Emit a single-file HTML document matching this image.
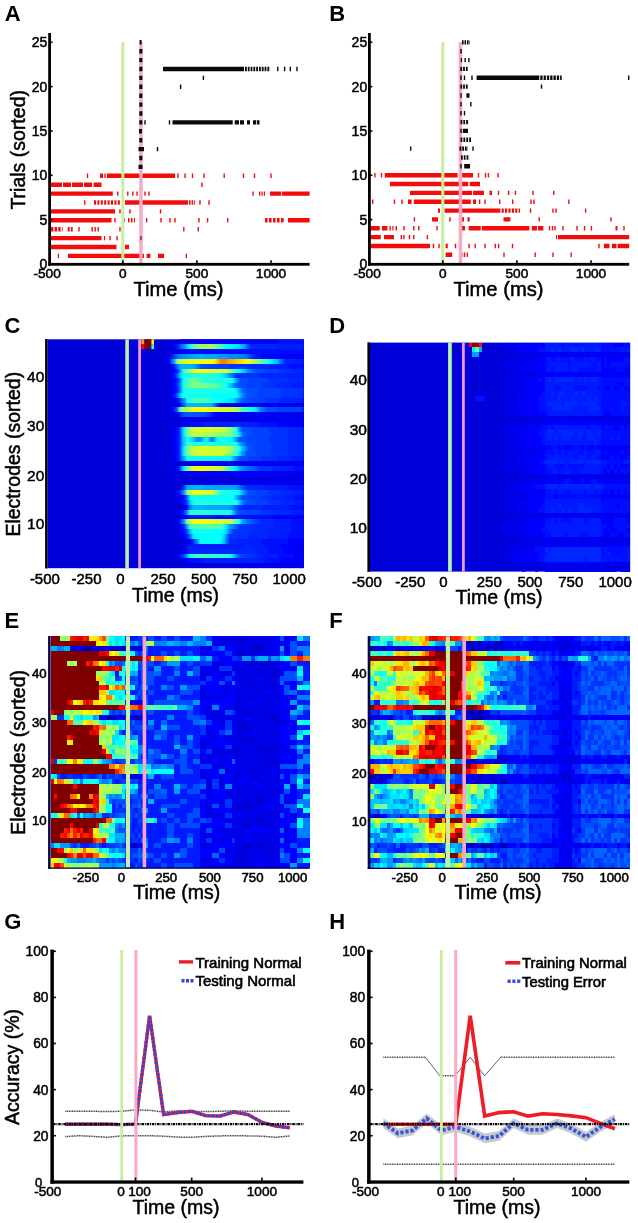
<!DOCTYPE html>
<html><head><meta charset="utf-8"><title>Figure</title>
<style>
html,body{margin:0;padding:0;background:#fff;}
svg{display:block;}
svg text{font-family:"Liberation Sans", sans-serif;fill:#000;stroke:#000;stroke-width:.5px;}
</style></head><body>
<svg width="638" height="1223" viewBox="0 0 638 1223">
<rect width="638" height="1223" fill="#fff"/>
<path fill="#f20d0d" d="M86.8 173.6h1.4v4.4h-1.4zM100 173.6h3v4.4h-3zM104.3 173.6h1.4v4.4h-1.4zM107 173.6h68v4.4h-68zM177.3 173.6h1.4v4.4h-1.4zM184.3 173.6h1.4v4.4h-1.4zM191.8 173.6h1.4v4.4h-1.4zM203.3 173.6h1.4v4.4h-1.4zM223.5 173.6h1.4v4.4h-1.4zM242.8 173.6h1.4v4.4h-1.4zM253.8 173.6h1.4v4.4h-1.4zM270.3 173.6h1.4v4.4h-1.4zM50 182.5h12v4.4h-12zM63 182.5h8v4.4h-8zM72 182.5h11v4.4h-11zM84 182.5h8v4.4h-8zM93.5 182.5h8v4.4h-8zM201.3 182.5h1.4v4.4h-1.4zM50 191.4h62.8v4.4h-62.8zM117.1 191.4h1.4v4.4h-1.4zM127.1 191.4h1.4v4.4h-1.4zM132.1 191.4h1.4v4.4h-1.4zM136.3 191.4h1.4v4.4h-1.4zM144.3 191.4h1.4v4.4h-1.4zM148.3 191.4h1.4v4.4h-1.4zM252.3 191.4h1.4v4.4h-1.4zM259 191.4h1.3v4.4h-1.3zM261.4 191.4h1.3v4.4h-1.3zM263.8 191.4h1.2v4.4h-1.2zM270 191.4h11v4.4h-11zM281.8 191.4h27.8v4.4h-27.8zM84 200.3h1.4v4.4h-1.4zM94 200.3h2v4.4h-2zM97.4 200.3h2v4.4h-2zM100.8 200.3h2v4.4h-2zM104.2 200.3h2v4.4h-2zM107.6 200.3h2v4.4h-2zM111 200.3h2v4.4h-2zM114.4 200.3h2v4.4h-2zM117.8 200.3h2v4.4h-2zM122 200.3h1.5v4.4h-1.5zM125 200.3h63v4.4h-63zM189 200.3h1.6v4.4h-1.6zM191.6 200.3h1.6v4.4h-1.6zM194.2 200.3h0.8v4.4h-0.8zM199.3 200.3h1.4v4.4h-1.4zM208.3 200.3h1.4v4.4h-1.4zM50 209.2h65v4.4h-65zM119.3 209.2h1.4v4.4h-1.4zM129.3 209.2h1.4v4.4h-1.4zM159.8 209.2h1.4v4.4h-1.4zM50 218.1h61.5v4.4h-61.5zM114.3 218.1h1.4v4.4h-1.4zM123.3 218.1h1.4v4.4h-1.4zM128 218.1h1.5v4.4h-1.5zM131 218.1h1.5v4.4h-1.5zM134 218.1h1v4.4h-1zM145.9 218.1h1.4v4.4h-1.4zM160.3 218.1h1.4v4.4h-1.4zM169.3 218.1h1.4v4.4h-1.4zM174.3 218.1h1.4v4.4h-1.4zM198.3 218.1h1.4v4.4h-1.4zM206.9 218.1h1.4v4.4h-1.4zM227 218.1h1.4v4.4h-1.4zM265 218.1h2.6v4.4h-2.6zM269 218.1h2.6v4.4h-2.6zM273 218.1h2.6v4.4h-2.6zM277 218.1h2.6v4.4h-2.6zM281 218.1h2.6v4.4h-2.6zM288 218.1h21.6v4.4h-21.6zM51 227h2.4v4.4h-2.4zM54.6 227h2.4v4.4h-2.4zM58.2 227h2.4v4.4h-2.4zM61.8 227h0.8v4.4h-0.8zM67.7 227h2v4.4h-2zM70.9 227h1.8v4.4h-1.8zM78.3 227h1.4v4.4h-1.4zM91.5 227h1.4v4.4h-1.4zM94.5 227h1.4v4.4h-1.4zM97.5 227h1.4v4.4h-1.4zM119.3 227h1.4v4.4h-1.4zM183.1 227h1.4v4.4h-1.4zM197.6 227h1.4v4.4h-1.4zM50 235.9h51.5v4.4h-51.5zM104 235.9h1.2v4.4h-1.2zM106.4 235.9h0.1v4.4h-0.1zM109.3 235.9h1.4v4.4h-1.4zM116.3 235.9h1.4v4.4h-1.4zM50 244.8h66.5v4.4h-66.5zM125 244.8h4v4.4h-4zM57.7 253.7h1.4v4.4h-1.4zM68 253.7h76v4.4h-76zM146.6 253.7h3.8v4.4h-3.8zM158 253.7h6v4.4h-6zM185.6 253.7h1.4v4.4h-1.4z"/>
<rect x="121.3" y="42" width="3" height="222" fill="#c6efa0"/>
<rect x="139.2" y="42" width="3.5" height="222" fill="#f9aac4"/>
<path fill="#0a0a0a" d="M138.5 164.7h4v4.4h-4zM139.3 155.8h3.1v4.4h-3.1zM138.5 146.9h5.5v4.4h-5.5zM156.8 146.9h1.4v4.4h-1.4zM139.3 138h3.1v4.4h-3.1zM139 129.1h3v4.4h-3zM139.3 120.2h3.1v4.4h-3.1zM144.3 120.2h1.4v4.4h-1.4zM168.8 120.2h1.4v4.4h-1.4zM172.5 120.2h60.2v4.4h-60.2zM234.7 120.2h4.3v4.4h-4.3zM240 120.2h4v4.4h-4zM247 120.2h3v4.4h-3zM253 120.2h3v4.4h-3zM256.8 120.2h2.7v4.4h-2.7zM139.3 111.3h3.1v4.4h-3.1zM139.3 102.4h3.1v4.4h-3.1zM139.3 93.5h3.1v4.4h-3.1zM139.3 84.6h3.1v4.4h-3.1zM179.9 84.6h1.4v4.4h-1.4zM139.3 75.7h3.1v4.4h-3.1zM202.7 75.7h1.4v4.4h-1.4zM139.3 66.8h3.1v4.4h-3.1zM163 66.8h81v4.4h-81zM245 66.8h1.8v4.4h-1.8zM247.8 66.8h1.8v4.4h-1.8zM250.6 66.8h1.8v4.4h-1.8zM253.4 66.8h1.8v4.4h-1.8zM256.2 66.8h1.8v4.4h-1.8zM259 66.8h1.8v4.4h-1.8zM261.8 66.8h1.8v4.4h-1.8zM264.6 66.8h1.8v4.4h-1.8zM267.4 66.8h1.8v4.4h-1.8zM270.2 66.8h0.1v4.4h-0.1zM277.1 66.8h1.4v4.4h-1.4zM283.9 66.8h1.4v4.4h-1.4zM289.6 66.8h1.4v4.4h-1.4zM296.3 66.8h1.4v4.4h-1.4zM139.3 57.9h3.1v4.4h-3.1zM139.3 49h3.1v4.4h-3.1zM139.6 40.1h2v4.4h-2z"/>
<path fill="#a01030" d="M140.3 235.9h1.4v4.4h-1.4z"/>
<path fill="#f20d0d" d="M374.2 173h1.4v4.4h-1.4zM380.8 173h1.4v4.4h-1.4zM384.8 173h72.8v4.4h-72.8zM459.8 173h13.2v4.4h-13.2zM477.8 173h1.4v4.4h-1.4zM484.8 173h1.4v4.4h-1.4zM487.7 173h1.4v4.4h-1.4zM497.4 173h1.4v4.4h-1.4zM390 181.8h78.2v4.4h-78.2zM469.7 181.8h10.3v4.4h-10.3zM410 190.7h62v4.4h-62zM473 190.7h11v4.4h-11zM489.5 190.7h2.5v4.4h-2.5zM497.8 190.7h1.4v4.4h-1.4zM507.9 190.7h1.4v4.4h-1.4zM514.8 190.7h1.4v4.4h-1.4zM532.3 190.7h1.4v4.4h-1.4zM553.1 190.7h1.4v4.4h-1.4zM372 199.5h1.4v4.4h-1.4zM393.8 199.5h1.4v4.4h-1.4zM401.3 199.5h1.4v4.4h-1.4zM408 199.5h3.6v4.4h-3.6zM413.8 199.5h57v4.4h-57zM473 199.5h3v4.4h-3zM478.9 199.5h1.4v4.4h-1.4zM484.3 199.5h1.4v4.4h-1.4zM499 199.5h1.4v4.4h-1.4zM512 199.5h1.4v4.4h-1.4zM530.3 199.5h1.4v4.4h-1.4zM533.3 199.5h1.4v4.4h-1.4zM568.2 199.5h1.4v4.4h-1.4zM438 208.4h2v4.4h-2zM444.5 208.4h55.9v4.4h-55.9zM501.6 208.4h2.2v4.4h-2.2zM505 208.4h2.2v4.4h-2.2zM508.4 208.4h2.2v4.4h-2.2zM511.8 208.4h2.2v4.4h-2.2zM515.2 208.4h2.2v4.4h-2.2zM518.6 208.4h1.4v4.4h-1.4zM529.9 208.4h1.4v4.4h-1.4zM552.3 208.4h1.4v4.4h-1.4zM555.3 208.4h1.4v4.4h-1.4zM584.9 208.4h1.4v4.4h-1.4zM413.7 217.2h1.4v4.4h-1.4zM432 217.2h6v4.4h-6zM449.3 217.2h1.4v4.4h-1.4zM460 217.2h4v4.4h-4zM467.5 217.2h2.2v4.4h-2.2zM503.5 217.2h6.9v4.4h-6.9zM538.5 217.2h1.4v4.4h-1.4zM610.3 217.2h1.4v4.4h-1.4zM368.8 226.1h10.9v4.4h-10.9zM382 226.1h5.4v4.4h-5.4zM389.5 226.1h1.4v4.4h-1.4zM392.3 226.1h1.2v4.4h-1.2zM395.6 226.1h1.4v4.4h-1.4zM403.3 226.1h1.4v4.4h-1.4zM413.1 226.1h1.4v4.4h-1.4zM418.1 226.1h1.4v4.4h-1.4zM436.3 226.1h1.4v4.4h-1.4zM461 226.1h4v4.4h-4zM468.6 226.1h12.1v4.4h-12.1zM481.8 226.1h47.6v4.4h-47.6zM531.8 226.1h5.2v4.4h-5.2zM538 226.1h5.4v4.4h-5.4zM548.8 226.1h1.4v4.4h-1.4zM551.8 226.1h1.4v4.4h-1.4zM554.3 226.1h1.4v4.4h-1.4zM562.3 226.1h1.4v4.4h-1.4zM576.3 226.1h1.4v4.4h-1.4zM583.9 226.1h1.4v4.4h-1.4zM590.7 226.1h1.4v4.4h-1.4zM615.5 226.1h2v4.4h-2zM623.3 226.1h1.4v4.4h-1.4zM368.8 234.9h12v4.4h-12zM384 234.9h10v4.4h-10zM400.6 234.9h1.4v4.4h-1.4zM403.2 234.9h1.4v4.4h-1.4zM408.7 234.9h1.4v4.4h-1.4zM413.1 234.9h1.4v4.4h-1.4zM426.7 234.9h1.4v4.4h-1.4zM460.7 234.9h1.4v4.4h-1.4zM556 234.9h1v4.4h-1zM558 234.9h71.2v4.4h-71.2zM370 243.8h60v4.4h-60zM432.8 243.8h1.4v4.4h-1.4zM438.3 243.8h1.4v4.4h-1.4zM445.6 243.8h2.2v4.4h-2.2zM454.8 243.8h1.4v4.4h-1.4zM460.3 243.8h1.4v4.4h-1.4zM468.3 243.8h1.4v4.4h-1.4zM474.5 243.8h1.4v4.4h-1.4zM484.3 243.8h1.4v4.4h-1.4zM494.6 243.8h1.4v4.4h-1.4zM497.9 243.8h1.4v4.4h-1.4zM511.8 243.8h1.4v4.4h-1.4zM598.3 243.8h1.4v4.4h-1.4zM604 243.8h5.5v4.4h-5.5zM612 243.8h4.5v4.4h-4.5zM617.6 243.8h11.6v4.4h-11.6zM445.6 252.6h6.6v4.4h-6.6zM460 252.6h2.5v4.4h-2.5zM463.8 252.6h1.4v4.4h-1.4zM466.6 252.6h1.4v4.4h-1.4zM503.3 252.6h1.4v4.4h-1.4zM534.5 252.6h1.4v4.4h-1.4zM552.3 252.6h1.4v4.4h-1.4zM570.5 252.6h1.4v4.4h-1.4z"/>
<rect x="441.3" y="42" width="3" height="222" fill="#c6efa0"/>
<rect x="458.7" y="42" width="3.5" height="222" fill="#f9aac4"/>
<path fill="#0a0a0a" d="M462 40.2h1.6v4.4h-1.6zM464.5 40.2h1.6v4.4h-1.6zM467 40.2h1.6v4.4h-1.6zM469.5 40.2h0.5v4.4h-0.5zM460.3 49h1.5v4.4h-1.5zM460.7 57.9h1.4v4.4h-1.4zM464.5 57.9h1.4v4.4h-1.4zM468.2 57.9h1.4v4.4h-1.4zM460.3 66.7h1.8v4.4h-1.8zM463.1 66.7h1.8v4.4h-1.8zM465.9 66.7h1.8v4.4h-1.8zM460.3 75.6h1.4v4.4h-1.4zM463.8 75.6h1.4v4.4h-1.4zM471.3 75.6h1.4v4.4h-1.4zM476.6 75.6h62.7v4.4h-62.7zM540.3 75.6h2.3v4.4h-2.3zM543.6 75.6h2.3v4.4h-2.3zM546.9 75.6h2.3v4.4h-2.3zM550.2 75.6h2.3v4.4h-2.3zM553.5 75.6h2.3v4.4h-2.3zM556.8 75.6h2.3v4.4h-2.3zM560.1 75.6h1.6v4.4h-1.6zM628 75.6h1.4v4.4h-1.4zM460.3 84.4h1.8v4.4h-1.8zM463.1 84.4h1.8v4.4h-1.8zM465.9 84.4h1.8v4.4h-1.8zM540.8 84.4h1.4v4.4h-1.4zM460.3 93.3h1.4v4.4h-1.4zM466.4 93.3h3.1v4.4h-3.1zM460.3 102.1h1.4v4.4h-1.4zM470.1 102.1h1.4v4.4h-1.4zM460.3 111h1.4v4.4h-1.4zM463.8 111h1.4v4.4h-1.4zM460.5 119.9h1.8v4.4h-1.8zM463.3 119.9h1.8v4.4h-1.8zM466.1 119.9h1.8v4.4h-1.8zM468.9 119.9h0.1v4.4h-0.1zM460.3 128.7h1.4v4.4h-1.4zM462.8 128.7h5.2v4.4h-5.2zM460.5 137.6h1.8v4.4h-1.8zM463.4 137.6h1.8v4.4h-1.8zM466.3 137.6h1.8v4.4h-1.8zM469.2 137.6h1.8v4.4h-1.8zM410 146.4h1.4v4.4h-1.4zM459.5 146.4h1.8v4.4h-1.8zM462.2 146.4h1.8v4.4h-1.8zM464.9 146.4h1.8v4.4h-1.8zM467.6 146.4h0.4v4.4h-0.4zM472.3 146.4h1.4v4.4h-1.4zM461 155.3h1.7v4.4h-1.7zM463.8 155.3h1.7v4.4h-1.7zM466.6 155.3h1.7v4.4h-1.7zM469.4 155.3h0.1v4.4h-0.1zM460.3 164.1h1.4v4.4h-1.4zM464.2 164.1h5.8v4.4h-5.8z"/>
<rect x="48.2" y="33" width="2.8" height="232.7" fill="#000"/>
<rect x="48.2" y="262.9" width="261.4" height="2.8" fill="#000"/>
<rect x="368" y="33" width="2.8" height="232.7" fill="#000"/>
<rect x="368" y="262.9" width="261.2" height="2.8" fill="#000"/>
<rect x="49.6" y="263.2" width="3" height="1.6" fill="#000"/>
<text x="47.4" y="269" font-size="14" text-anchor="end" font-weight="normal">0</text>
<rect x="49.6" y="218.8" width="3" height="1.6" fill="#000"/>
<text x="47.4" y="224.7" font-size="14" text-anchor="end" font-weight="normal">5</text>
<rect x="49.6" y="174.5" width="3" height="1.6" fill="#000"/>
<text x="47.4" y="180.3" font-size="14" text-anchor="end" font-weight="normal">10</text>
<rect x="49.6" y="130.2" width="3" height="1.6" fill="#000"/>
<text x="47.4" y="136" font-size="14" text-anchor="end" font-weight="normal">15</text>
<rect x="49.6" y="85.8" width="3" height="1.6" fill="#000"/>
<text x="47.4" y="91.6" font-size="14" text-anchor="end" font-weight="normal">20</text>
<rect x="49.6" y="41.5" width="3" height="1.6" fill="#000"/>
<text x="47.4" y="47.3" font-size="14" text-anchor="end" font-weight="normal">25</text>
<rect x="369.4" y="263.2" width="3" height="1.6" fill="#000"/>
<text x="367.2" y="269" font-size="14" text-anchor="end" font-weight="normal">0</text>
<rect x="369.4" y="218.8" width="3" height="1.6" fill="#000"/>
<text x="367.2" y="224.7" font-size="14" text-anchor="end" font-weight="normal">5</text>
<rect x="369.4" y="174.5" width="3" height="1.6" fill="#000"/>
<text x="367.2" y="180.3" font-size="14" text-anchor="end" font-weight="normal">10</text>
<rect x="369.4" y="130.2" width="3" height="1.6" fill="#000"/>
<text x="367.2" y="136" font-size="14" text-anchor="end" font-weight="normal">15</text>
<rect x="369.4" y="85.8" width="3" height="1.6" fill="#000"/>
<text x="367.2" y="91.6" font-size="14" text-anchor="end" font-weight="normal">20</text>
<rect x="369.4" y="41.5" width="3" height="1.6" fill="#000"/>
<text x="367.2" y="47.3" font-size="14" text-anchor="end" font-weight="normal">25</text>
<text x="47.1" y="278.4" font-size="13.7" text-anchor="middle" font-weight="normal">-500</text>
<rect x="122" y="260.3" width="1.6" height="3" fill="#000"/>
<text x="122.8" y="278.4" font-size="13.7" text-anchor="middle" font-weight="normal">0</text>
<rect x="196.1" y="260.3" width="1.6" height="3" fill="#000"/>
<text x="196.9" y="278.4" font-size="13.7" text-anchor="middle" font-weight="normal">500</text>
<rect x="270.2" y="260.3" width="1.6" height="3" fill="#000"/>
<text x="271" y="278.4" font-size="13.7" text-anchor="middle" font-weight="normal">1000</text>
<text x="367.1" y="278.4" font-size="13.7" text-anchor="middle" font-weight="normal">-500</text>
<rect x="442" y="260.3" width="1.6" height="3" fill="#000"/>
<text x="442.8" y="278.4" font-size="13.7" text-anchor="middle" font-weight="normal">0</text>
<rect x="516.1" y="260.3" width="1.6" height="3" fill="#000"/>
<text x="516.9" y="278.4" font-size="13.7" text-anchor="middle" font-weight="normal">500</text>
<rect x="590.2" y="260.3" width="1.6" height="3" fill="#000"/>
<text x="591" y="278.4" font-size="13.7" text-anchor="middle" font-weight="normal">1000</text>
<text x="178.5" y="296.3" font-size="20.2" text-anchor="middle" font-weight="normal">Time (ms)</text>
<text x="498.5" y="296.3" font-size="20.2" text-anchor="middle" font-weight="normal">Time (ms)</text>
<text x="25.3" y="149.8" font-size="19.5" text-anchor="middle" font-weight="normal" transform="rotate(-90 25.3 149.8)">Trials (sorted)</text>
<text x="4.8" y="20.6" font-size="22" text-anchor="start" font-weight="bold" style="stroke-width:0px">A</text>
<text x="329.2" y="20.6" font-size="22" text-anchor="start" font-weight="bold" style="stroke-width:0px">B</text>
<rect x="47.4" y="339.3" width="256.6" height="228.9" fill="#0000d9"/>
<defs><filter id="bl" x="-5%" y="-5%" width="110%" height="110%"><feGaussianBlur stdDeviation="0.25 0.12"/></filter><clipPath id="cc"><rect x="47.4" y="339.3" width="256.6" height="228.9"/></clipPath></defs>
<g clip-path="url(#cc)">
<g shape-rendering="crispEdges" transform="translate(47.4 339.3) scale(3.28974 4.87021)" filter="url(#bl)">
<path fill="#0000e6" d="M40 0h2v1h-2zM37 1h1v1h-1zM40 2h1v1h-1zM37 3h1v1h-1zM35 4h1v1h-1zM37 6h1v1h-1zM37 8h1v1h-1zM37 9h1v1h-1zM37 10h1v1h-1zM71 13h7v1h-7zM43 16h20v1h-20zM40 17h1v1h-1zM41 25h1v1h-1zM41 27h1v1h-1zM58 28h20v1h-20zM42 29h19v1h-19zM38 31h1v1h-1zM39 32h1v1h-1zM39 35h1v1h-1zM38 37h1v1h-1zM39 38h1v1h-1zM40 40h1v1h-1zM42 41h1v1h-1zM58 46h20v1h-20z"/>
<path fill="#0000f2" d="M42 0h1v1h-1zM41 2h1v1h-1zM74 3h4v1h-4zM36 4h1v1h-1zM37 7h1v1h-1zM37 11h1v1h-1zM38 12h1v1h-1zM40 13h1v1h-1zM54 13h17v1h-17zM37 14h1v1h-1zM39 15h1v1h-1zM55 15h23v1h-23zM63 16h15v1h-15zM41 17h1v1h-1zM75 17h3v1h-3zM38 18h1v1h-1zM38 19h1v1h-1zM38 20h1v1h-1zM38 21h1v1h-1zM38 22h1v1h-1zM38 23h1v1h-1zM38 24h1v1h-1zM42 25h1v1h-1zM49 25h29v1h-29zM38 26h1v1h-1zM42 27h1v1h-1zM65 27h13v1h-13zM61 29h17v1h-17zM39 31h1v1h-1zM40 33h1v1h-1zM39 37h1v1h-1zM40 39h1v1h-1zM41 42h1v1h-1zM76 42h2v1h-2zM41 43h1v1h-1zM76 43h2v1h-2zM39 44h1v1h-1zM41 45h1v1h-1zM76 45h2v1h-2z"/>
<path fill="#0000ff" d="M43 0h27v1h-27zM38 1h1v1h-1zM42 2h1v1h-1zM65 3h9v1h-9zM38 6h1v1h-1zM38 8h1v1h-1zM38 9h1v1h-1zM38 10h1v1h-1zM52 13h2v1h-2zM51 15h4v1h-4zM42 17h1v1h-1zM70 17h5v1h-5zM43 25h6v1h-6zM43 27h22v1h-22zM40 32h1v1h-1zM42 34h1v1h-1zM40 35h1v1h-1zM42 36h1v1h-1zM68 36h10v1h-10zM40 38h1v1h-1zM41 40h1v1h-1zM43 41h1v1h-1zM73 41h5v1h-5zM71 42h5v1h-5zM72 43h4v1h-4zM75 44h3v1h-3zM42 45h1v1h-1zM71 45h5v1h-5z"/>
<path fill="#000dff" d="M70 0h8v1h-8zM43 2h35v1h-35zM63 3h2v1h-2zM37 4h1v1h-1zM38 5h1v1h-1zM73 5h5v1h-5zM38 7h1v1h-1zM38 11h1v1h-1zM39 12h1v1h-1zM38 14h1v1h-1zM50 15h1v1h-1zM43 17h4v1h-4zM64 17h6v1h-6zM39 18h1v1h-1zM39 19h1v1h-1zM39 20h1v1h-1zM39 21h1v1h-1zM39 22h1v1h-1zM39 23h1v1h-1zM39 24h1v1h-1zM39 26h1v1h-1zM75 26h3v1h-3zM73 30h5v1h-5zM40 31h1v1h-1zM41 32h1v1h-1zM75 32h3v1h-3zM41 33h1v1h-1zM73 34h5v1h-5zM51 36h17v1h-17zM40 37h1v1h-1zM74 37h4v1h-4zM74 38h4v1h-4zM41 39h1v1h-1zM74 39h4v1h-4zM73 40h5v1h-5zM65 41h8v1h-8zM42 42h1v1h-1zM66 42h5v1h-5zM42 43h1v1h-1zM67 43h5v1h-5zM40 44h1v1h-1zM70 44h5v1h-5zM43 45h4v1h-4zM66 45h5v1h-5z"/>
<path fill="#001aff" d="M39 1h1v1h-1zM70 1h8v1h-8zM75 4h3v1h-3zM67 5h6v1h-6zM39 6h1v1h-1zM72 7h6v1h-6zM39 8h1v1h-1zM39 9h1v1h-1zM74 9h4v1h-4zM39 10h1v1h-1zM75 12h3v1h-3zM40 15h1v1h-1zM47 17h11v1h-11zM59 17h5v1h-5zM74 24h4v1h-4zM71 26h4v1h-4zM66 30h7v1h-7zM75 31h3v1h-3zM72 32h3v1h-3zM75 33h3v1h-3zM65 34h8v1h-8zM41 35h1v1h-1zM74 35h4v1h-4zM43 36h8v1h-8zM69 37h5v1h-5zM41 38h1v1h-1zM69 38h5v1h-5zM68 39h6v1h-6zM42 40h1v1h-1zM67 40h6v1h-6zM44 41h1v1h-1zM58 41h7v1h-7zM43 42h17v1h-17zM62 42h4v1h-4zM63 43h4v1h-4zM65 44h5v1h-5zM47 45h14v1h-14zM62 45h4v1h-4z"/>
<path fill="#004dff" d="M40 1h1v1h-1zM61 3h1v1h-1zM46 5h3v1h-3zM63 6h3v1h-3zM39 7h1v1h-1zM58 8h3v1h-3zM58 9h2v1h-2zM60 10h4v1h-4zM39 11h1v1h-1zM61 11h3v1h-3zM60 12h2v1h-2zM66 14h4v1h-4zM41 15h1v1h-1zM46 15h2v1h-2zM59 18h3v1h-3zM60 19h2v1h-2zM58 20h3v1h-3zM60 21h3v1h-3zM61 22h2v1h-2zM60 23h3v1h-3zM58 24h3v1h-3zM63 26h1v1h-1zM59 30h1v1h-1zM61 31h2v1h-2zM59 32h2v1h-2zM60 33h3v1h-3zM58 35h2v1h-2zM62 37h1v1h-1zM58 44h1v1h-1z"/>
<path fill="#008cff" d="M41 1h1v1h-1zM41 3h1v1h-1zM55 3h3v1h-3zM70 4h1v1h-1zM45 5h1v1h-1zM40 6h1v1h-1zM55 7h1v1h-1zM56 9h1v1h-1zM41 12h1v1h-1zM50 13h1v1h-1zM58 18h1v1h-1zM46 20h1v1h-1zM49 20h1v1h-1zM57 20h1v1h-1zM59 23h1v1h-1zM59 26h1v1h-1zM41 31h1v1h-1zM41 37h1v1h-1z"/>
<path fill="#00d9ff" d="M42 1h1v1h-1zM58 1h1v1h-1zM59 6h1v1h-1zM40 11h1v1h-1zM58 19h1v1h-1zM47 20h1v1h-1zM56 20h1v1h-1zM53 40h1v1h-1z"/>
<path fill="#1affe5" d="M43 1h1v1h-1zM57 6h1v1h-1zM44 7h3v1h-3zM51 7h1v1h-1zM47 8h9v1h-9zM42 10h15v1h-15zM41 11h1v1h-1zM42 12h1v1h-1zM50 12h1v1h-1zM61 14h1v1h-1zM57 18h1v1h-1zM42 20h1v1h-1zM50 21h7v1h-7zM58 22h1v1h-1zM42 24h1v1h-1zM54 31h2v1h-2zM44 33h14v1h-14zM50 35h6v1h-6zM53 38h1v1h-1zM43 44h1v1h-1zM53 44h3v1h-3z"/>
<path fill="#59ffa6" d="M44 1h1v1h-1zM56 6h1v1h-1zM43 8h1v1h-1zM51 9h1v1h-1zM46 12h1v1h-1zM56 18h1v1h-1zM56 23h1v1h-1zM47 38h6v1h-6z"/>
<path fill="#8cff73" d="M45 1h1v1h-1zM50 1h1v1h-1zM39 4h1v1h-1zM53 19h2v1h-2zM42 31h1v1h-1zM42 37h1v1h-1zM56 37h1v1h-1z"/>
<path fill="#a6ff59" d="M46 1h4v1h-4zM41 14h1v1h-1zM43 18h1v1h-1zM49 19h2v1h-2zM43 22h1v1h-1zM55 22h1v1h-1z"/>
<path fill="#73ff8c" d="M51 1h1v1h-1zM47 9h2v1h-2zM42 18h1v1h-1zM42 19h1v1h-1zM55 19h1v1h-1zM42 22h1v1h-1zM56 22h1v1h-1zM42 23h1v1h-1zM42 26h1v1h-1zM54 26h1v1h-1z"/>
<path fill="#4dffb3" d="M52 1h1v1h-1zM65 4h1v1h-1zM42 9h1v1h-1zM45 12h1v1h-1zM47 12h1v1h-1zM59 14h1v1h-1zM56 19h1v1h-1zM57 22h1v1h-1zM57 37h1v1h-1zM43 38h4v1h-4zM46 44h1v1h-1z"/>
<path fill="#26ffd9" d="M53 1h1v1h-1zM66 4h1v1h-1zM47 7h4v1h-4zM41 9h1v1h-1zM53 9h1v1h-1zM43 12h1v1h-1zM57 19h1v1h-1zM43 21h7v1h-7zM57 23h1v1h-1zM53 31h1v1h-1zM44 35h6v1h-6zM44 44h1v1h-1zM51 44h2v1h-2z"/>
<path fill="#0dfff2" d="M54 1h1v1h-1zM67 4h1v1h-1zM41 7h3v1h-3zM41 8h1v1h-1zM54 9h1v1h-1zM41 10h1v1h-1zM42 11h8v1h-8zM51 12h2v1h-2zM52 20h2v1h-2zM57 21h1v1h-1zM43 24h6v1h-6zM56 26h1v1h-1zM56 31h1v1h-1zM44 32h7v1h-7zM44 39h5v1h-5z"/>
<path fill="#00ffff" d="M55 1h1v1h-1zM58 6h1v1h-1zM52 7h1v1h-1zM50 11h8v1h-8zM53 12h1v1h-1zM62 14h1v1h-1zM54 20h2v1h-2zM49 24h7v1h-7zM57 31h2v1h-2zM43 32h1v1h-1zM51 32h6v1h-6zM58 37h1v1h-1zM49 39h5v1h-5zM45 40h8v1h-8zM46 41h7v1h-7z"/>
<path fill="#00f2ff" d="M56 1h1v1h-1zM56 8h1v1h-1zM57 10h1v1h-1zM54 12h1v1h-1zM43 20h1v1h-1zM48 20h1v1h-1zM51 20h1v1h-1zM44 40h1v1h-1z"/>
<path fill="#00e5ff" d="M57 1h1v1h-1zM68 4h1v1h-1zM53 7h1v1h-1zM55 12h2v1h-2zM63 14h1v1h-1zM41 18h1v1h-1zM41 19h1v1h-1zM41 22h1v1h-1zM41 23h1v1h-1zM58 23h1v1h-1zM41 26h1v1h-1zM57 26h1v1h-1zM54 38h1v1h-1z"/>
<path fill="#00b3ff" d="M59 1h1v1h-1zM46 3h2v1h-2zM40 5h5v1h-5zM42 13h8v1h-8zM58 21h1v1h-1zM59 22h1v1h-1zM56 24h1v1h-1zM42 30h5v1h-5zM57 32h1v1h-1zM44 34h4v1h-4zM56 35h1v1h-1zM42 44h1v1h-1z"/>
<path fill="#0073ff" d="M60 1h1v1h-1zM39 3h1v1h-1zM60 3h1v1h-1zM40 8h1v1h-1zM40 10h1v1h-1zM65 14h1v1h-1zM60 22h1v1h-1zM60 26h1v1h-1zM58 30h1v1h-1zM58 32h1v1h-1zM59 33h1v1h-1zM56 34h1v1h-1zM60 37h1v1h-1zM55 39h1v1h-1zM54 41h1v1h-1z"/>
<path fill="#0033ff" d="M61 1h1v1h-1zM38 3h1v1h-1zM55 5h6v1h-6zM70 6h4v1h-4zM57 7h7v1h-7zM67 8h6v1h-6zM65 9h4v1h-4zM71 10h7v1h-7zM71 11h7v1h-7zM40 12h1v1h-1zM66 12h4v1h-4zM77 14h1v1h-1zM40 18h1v1h-1zM67 18h6v1h-6zM40 19h1v1h-1zM68 19h5v1h-5zM40 20h1v1h-1zM67 20h6v1h-6zM40 21h1v1h-1zM68 21h5v1h-5zM40 22h1v1h-1zM68 22h5v1h-5zM40 23h1v1h-1zM68 23h5v1h-5zM40 24h1v1h-1zM65 24h5v1h-5zM40 26h1v1h-1zM64 26h4v1h-4zM41 30h1v1h-1zM67 31h4v1h-4zM65 32h3v1h-3zM67 33h4v1h-4zM58 34h1v1h-1zM65 35h4v1h-4zM64 37h1v1h-1zM58 38h5v1h-5zM56 39h6v1h-6zM55 40h6v1h-6zM61 44h2v1h-2z"/>
<path fill="#0026ff" d="M62 1h8v1h-8zM62 3h1v1h-1zM72 4h3v1h-3zM61 5h6v1h-6zM74 6h4v1h-4zM64 7h8v1h-8zM73 8h5v1h-5zM69 9h5v1h-5zM70 12h5v1h-5zM49 15h1v1h-1zM58 17h1v1h-1zM73 18h5v1h-5zM73 19h5v1h-5zM73 20h5v1h-5zM73 21h5v1h-5zM73 22h5v1h-5zM73 23h5v1h-5zM70 24h4v1h-4zM68 26h3v1h-3zM60 30h6v1h-6zM71 31h4v1h-4zM68 32h4v1h-4zM71 33h4v1h-4zM59 34h6v1h-6zM69 35h5v1h-5zM65 37h4v1h-4zM63 38h6v1h-6zM62 39h6v1h-6zM61 40h6v1h-6zM55 41h3v1h-3zM60 42h2v1h-2zM43 43h20v1h-20zM63 44h2v1h-2zM61 45h1v1h-1z"/>
<path fill="#0080ff" d="M40 3h1v1h-1zM58 3h2v1h-2zM61 6h1v1h-1zM40 9h1v1h-1zM59 11h1v1h-1zM58 12h1v1h-1zM50 20h1v1h-1zM59 21h1v1h-1zM57 24h1v1h-1zM43 34h1v1h-1zM56 38h1v1h-1zM54 40h1v1h-1zM45 41h1v1h-1zM57 44h1v1h-1z"/>
<path fill="#0099ff" d="M42 3h2v1h-2zM52 3h3v1h-3zM38 4h1v1h-1zM57 8h1v1h-1zM64 14h1v1h-1zM45 20h1v1h-1zM57 30h1v1h-1zM55 34h1v1h-1zM42 35h1v1h-1zM55 38h1v1h-1z"/>
<path fill="#00a6ff" d="M44 3h2v1h-2zM48 3h4v1h-4zM60 6h1v1h-1zM58 10h1v1h-1zM57 12h1v1h-1zM41 24h1v1h-1zM58 26h1v1h-1zM47 30h10v1h-10zM59 31h1v1h-1zM48 34h7v1h-7zM59 37h1v1h-1zM42 38h1v1h-1z"/>
<path fill="#b3ff4c" d="M40 4h1v1h-1zM43 6h1v1h-1zM57 14h1v1h-1zM54 18h1v1h-1zM47 19h2v1h-2zM54 23h1v1h-1zM43 26h1v1h-1zM53 26h1v1h-1z"/>
<path fill="#d9ff26" d="M41 4h1v1h-1zM51 6h2v1h-2zM43 14h1v1h-1zM52 14h3v1h-3zM45 18h5v1h-5zM45 22h5v1h-5zM50 26h2v1h-2zM48 31h2v1h-2zM51 37h3v1h-3z"/>
<path fill="#e5ff1a" d="M42 4h3v1h-3zM49 6h2v1h-2zM50 14h2v1h-2zM48 26h2v1h-2zM47 31h1v1h-1zM49 37h2v1h-2z"/>
<path fill="#f2ff0d" d="M45 4h3v1h-3zM61 4h1v1h-1zM44 6h1v1h-1zM47 6h2v1h-2zM48 14h2v1h-2zM44 26h1v1h-1zM47 26h1v1h-1zM44 31h1v1h-1zM46 31h1v1h-1zM44 37h1v1h-1zM47 37h2v1h-2z"/>
<path fill="#ffff00" d="M48 4h3v1h-3zM60 4h1v1h-1zM45 6h2v1h-2zM44 14h4v1h-4zM45 26h2v1h-2zM45 31h1v1h-1zM45 37h2v1h-2z"/>
<path fill="#ffd900" d="M51 4h1v1h-1zM58 4h1v1h-1z"/>
<path fill="#ff8c00" d="M52 4h1v1h-1zM54 4h1v1h-1z"/>
<path fill="#ff7300" d="M53 4h1v1h-1z"/>
<path fill="#ffa600" d="M55 4h1v1h-1z"/>
<path fill="#ffb300" d="M56 4h1v1h-1z"/>
<path fill="#ffcc00" d="M57 4h1v1h-1z"/>
<path fill="#ffe500" d="M59 4h1v1h-1z"/>
<path fill="#bfff40" d="M62 4h1v1h-1zM42 14h1v1h-1zM44 19h3v1h-3zM44 23h1v1h-1zM43 31h1v1h-1zM43 37h1v1h-1z"/>
<path fill="#99ff66" d="M63 4h1v1h-1zM55 6h1v1h-1zM43 19h1v1h-1zM51 19h2v1h-2zM43 23h1v1h-1z"/>
<path fill="#66ff99" d="M64 4h1v1h-1zM45 8h1v1h-1zM43 9h1v1h-1zM49 9h2v1h-2zM40 14h1v1h-1z"/>
<path fill="#00ccff" d="M69 4h1v1h-1zM40 7h1v1h-1zM54 7h1v1h-1zM55 9h1v1h-1zM58 11h1v1h-1zM41 20h1v1h-1zM44 20h1v1h-1zM41 21h1v1h-1zM43 33h1v1h-1zM58 33h1v1h-1zM43 39h1v1h-1zM54 39h1v1h-1zM53 41h1v1h-1zM56 44h1v1h-1z"/>
<path fill="#0059ff" d="M71 4h1v1h-1zM56 7h1v1h-1zM60 11h1v1h-1zM59 12h1v1h-1zM41 13h1v1h-1zM42 15h4v1h-4zM62 26h1v1h-1zM57 34h1v1h-1zM57 38h1v1h-1z"/>
<path fill="#0066ff" d="M39 5h1v1h-1zM62 6h1v1h-1zM57 9h1v1h-1zM59 10h1v1h-1zM39 14h1v1h-1zM59 19h1v1h-1zM61 26h1v1h-1zM60 31h1v1h-1zM42 32h1v1h-1zM57 35h1v1h-1zM61 37h1v1h-1zM43 40h1v1h-1z"/>
<path fill="#0040ff" d="M49 5h6v1h-6zM66 6h4v1h-4zM61 8h6v1h-6zM60 9h5v1h-5zM64 10h7v1h-7zM64 11h7v1h-7zM62 12h4v1h-4zM51 13h1v1h-1zM70 14h7v1h-7zM48 15h1v1h-1zM62 18h5v1h-5zM62 19h6v1h-6zM61 20h6v1h-6zM63 21h5v1h-5zM63 22h5v1h-5zM63 23h5v1h-5zM61 24h4v1h-4zM63 31h4v1h-4zM61 32h4v1h-4zM42 33h1v1h-1zM63 33h4v1h-4zM60 35h5v1h-5zM63 37h1v1h-1zM42 39h1v1h-1zM41 44h1v1h-1zM59 44h2v1h-2z"/>
<path fill="#40ffbf" d="M41 6h1v1h-1zM46 8h1v1h-1zM52 9h1v1h-1zM44 12h1v1h-1zM48 12h1v1h-1zM45 44h1v1h-1zM47 44h2v1h-2z"/>
<path fill="#80ff80" d="M42 6h1v1h-1zM44 8h1v1h-1zM44 9h3v1h-3zM58 14h1v1h-1zM55 18h1v1h-1zM55 23h1v1h-1zM51 31h1v1h-1z"/>
<path fill="#ccff33" d="M53 6h2v1h-2zM55 14h2v1h-2zM44 18h1v1h-1zM50 18h4v1h-4zM44 22h1v1h-1zM50 22h5v1h-5zM45 23h9v1h-9zM52 26h1v1h-1zM50 31h1v1h-1zM54 37h2v1h-2z"/>
<path fill="#33ffcc" d="M42 8h1v1h-1zM49 12h1v1h-1zM60 14h1v1h-1zM42 21h1v1h-1zM55 26h1v1h-1zM52 31h1v1h-1zM43 35h1v1h-1zM49 44h2v1h-2z"/>
</g>
</g>
<rect x="141.3" y="339.3" width="3.1" height="4.9" fill="#ff9e00"/>
<rect x="141.3" y="344.2" width="3.1" height="4.9" fill="#fa0000"/>
<rect x="144.4" y="339.3" width="7" height="9.7" fill="#800000"/>
<rect x="151.4" y="339.3" width="2.6" height="4.9" fill="#fff000"/>
<rect x="151.4" y="344.2" width="2.6" height="4.9" fill="#2effd1"/>
<rect x="125.3" y="339.3" width="3.6" height="228.9" fill="#b8f0b0"/>
<rect x="138.2" y="339.3" width="2.8" height="228.9" fill="#ef94e2"/>
<rect x="45.1" y="339" width="2.4" height="229.5" fill="#000"/>
<text x="44.3" y="382" font-size="15.5" text-anchor="end" font-weight="normal">40</text>
<text x="44.3" y="431.1" font-size="15.5" text-anchor="end" font-weight="normal">30</text>
<text x="44.3" y="480.9" font-size="15.5" text-anchor="end" font-weight="normal">20</text>
<text x="44.3" y="529" font-size="15.5" text-anchor="end" font-weight="normal">10</text>
<text x="44.9" y="583.6" font-size="15" text-anchor="middle" font-weight="normal">-500</text>
<text x="86.5" y="583.6" font-size="15" text-anchor="middle" font-weight="normal">-250</text>
<text x="120.4" y="583.6" font-size="15" text-anchor="middle" font-weight="normal">0</text>
<text x="163" y="583.6" font-size="15" text-anchor="middle" font-weight="normal">250</text>
<text x="203.6" y="583.6" font-size="15" text-anchor="middle" font-weight="normal">500</text>
<text x="245" y="583.6" font-size="15" text-anchor="middle" font-weight="normal">750</text>
<text x="289.2" y="583.6" font-size="15" text-anchor="middle" font-weight="normal">1000</text>
<text x="175.5" y="601.6" font-size="19.5" text-anchor="middle" font-weight="normal">Time (ms)</text>
<rect x="370" y="342.6" width="260.2" height="229" fill="#0000d9"/>
<g shape-rendering="crispEdges" transform="translate(370 342.6) scale(3.29367 4.87234)">
<path fill="#fa0000" d="M30 0h1v1h-1z"/>
<path fill="#9e0000" d="M31 0h2v1h-2z"/>
<path fill="#ff0f00" d="M33 0h1v1h-1z"/>
<path fill="#0000e6" d="M40 0h4v1h-4zM40 1h4v1h-4zM43 2h6v1h-6zM50 2h2v1h-2zM72 2h1v1h-1zM40 3h6v1h-6zM40 4h5v1h-5zM41 5h4v1h-4zM42 6h9v1h-9zM40 7h4v1h-4zM40 8h5v1h-5zM40 9h5v1h-5zM40 10h4v1h-4zM40 11h4v1h-4zM40 12h4v1h-4zM40 13h4v1h-4zM40 14h5v1h-5zM44 15h2v1h-2zM49 15h1v1h-1zM51 15h2v1h-2zM54 15h1v1h-1zM56 15h1v1h-1zM60 15h2v1h-2zM64 15h2v1h-2zM67 15h12v1h-12zM42 16h7v1h-7zM50 16h1v1h-1zM40 17h4v1h-4zM40 18h3v1h-3zM40 19h4v1h-4zM40 20h4v1h-4zM41 21h5v1h-5zM41 22h4v1h-4zM40 23h4v1h-4zM40 24h4v1h-4zM40 25h6v1h-6zM40 26h5v1h-5zM48 27h1v1h-1zM50 27h3v1h-3zM57 27h5v1h-5zM63 27h1v1h-1zM66 27h1v1h-1zM68 27h11v1h-11zM42 28h5v1h-5zM48 28h1v1h-1zM40 29h4v1h-4zM41 30h4v1h-4zM41 31h7v1h-7zM40 32h4v1h-4zM40 33h4v1h-4zM40 34h4v1h-4zM43 35h1v1h-1zM45 35h9v1h-9zM59 35h1v1h-1zM64 35h1v1h-1zM69 35h1v1h-1zM72 35h2v1h-2zM75 35h1v1h-1zM78 35h1v1h-1zM40 36h6v1h-6zM40 37h4v1h-4zM40 38h5v1h-5zM40 39h5v1h-5zM44 40h1v1h-1zM46 40h7v1h-7zM56 40h1v1h-1zM58 40h1v1h-1zM60 40h1v1h-1zM64 40h3v1h-3zM69 40h3v1h-3zM73 40h4v1h-4zM78 40h1v1h-1zM43 41h8v1h-8zM40 42h4v1h-4zM40 43h3v1h-3zM40 44h3v1h-3zM45 45h7v1h-7zM53 45h1v1h-1zM58 45h1v1h-1zM60 45h1v1h-1zM69 45h1v1h-1zM71 45h2v1h-2zM74 45h4v1h-4zM46 46h1v1h-1zM50 46h1v1h-1zM53 46h22v1h-22zM76 46h3v1h-3z"/>
<path fill="#0000f2" d="M44 0h5v1h-5zM44 1h3v1h-3zM49 2h1v1h-1zM52 2h2v1h-2zM58 2h2v1h-2zM61 2h2v1h-2zM64 2h4v1h-4zM69 2h3v1h-3zM73 2h6v1h-6zM46 3h5v1h-5zM45 4h5v1h-5zM45 5h5v1h-5zM51 6h2v1h-2zM72 6h1v1h-1zM74 6h4v1h-4zM44 7h5v1h-5zM45 8h3v1h-3zM45 9h5v1h-5zM44 10h5v1h-5zM44 11h5v1h-5zM44 12h3v1h-3zM48 12h1v1h-1zM44 13h3v1h-3zM48 13h1v1h-1zM45 14h4v1h-4zM53 15h1v1h-1zM55 15h1v1h-1zM57 15h3v1h-3zM62 15h2v1h-2zM66 15h1v1h-1zM49 16h1v1h-1zM51 16h2v1h-2zM70 16h9v1h-9zM44 17h5v1h-5zM50 17h1v1h-1zM43 18h6v1h-6zM44 19h3v1h-3zM44 20h5v1h-5zM46 21h7v1h-7zM70 21h1v1h-1zM73 21h1v1h-1zM75 21h3v1h-3zM45 22h6v1h-6zM44 23h6v1h-6zM44 24h4v1h-4zM46 25h4v1h-4zM45 26h4v1h-4zM53 27h4v1h-4zM62 27h1v1h-1zM64 27h2v1h-2zM67 27h1v1h-1zM47 28h1v1h-1zM49 28h4v1h-4zM71 28h2v1h-2zM74 28h1v1h-1zM77 28h2v1h-2zM44 29h3v1h-3zM45 30h4v1h-4zM50 30h1v1h-1zM48 31h4v1h-4zM75 31h1v1h-1zM44 32h5v1h-5zM44 33h5v1h-5zM44 34h4v1h-4zM54 35h5v1h-5zM60 35h4v1h-4zM65 35h4v1h-4zM70 35h2v1h-2zM74 35h1v1h-1zM76 35h2v1h-2zM46 36h3v1h-3zM50 36h1v1h-1zM44 37h4v1h-4zM45 38h3v1h-3zM49 38h1v1h-1zM45 39h5v1h-5zM53 40h3v1h-3zM57 40h1v1h-1zM59 40h1v1h-1zM61 40h3v1h-3zM67 40h2v1h-2zM72 40h1v1h-1zM77 40h1v1h-1zM51 41h2v1h-2zM54 41h5v1h-5zM61 41h1v1h-1zM64 41h1v1h-1zM66 41h1v1h-1zM68 41h11v1h-11zM44 42h4v1h-4zM43 43h5v1h-5zM43 44h4v1h-4zM52 45h1v1h-1zM54 45h4v1h-4zM59 45h1v1h-1zM61 45h8v1h-8zM70 45h1v1h-1zM73 45h1v1h-1zM78 45h1v1h-1z"/>
<path fill="#0000ff" d="M49 0h4v1h-4zM74 0h3v1h-3zM47 1h4v1h-4zM54 2h4v1h-4zM60 2h1v1h-1zM63 2h1v1h-1zM68 2h1v1h-1zM51 3h2v1h-2zM70 3h1v1h-1zM72 3h5v1h-5zM50 4h3v1h-3zM70 4h1v1h-1zM72 4h1v1h-1zM50 5h3v1h-3zM70 5h5v1h-5zM77 5h2v1h-2zM53 6h19v1h-19zM73 6h1v1h-1zM78 6h1v1h-1zM49 7h2v1h-2zM52 7h1v1h-1zM48 8h5v1h-5zM75 8h2v1h-2zM50 9h3v1h-3zM71 9h2v1h-2zM74 9h2v1h-2zM77 9h2v1h-2zM49 10h3v1h-3zM49 11h2v1h-2zM47 12h1v1h-1zM49 12h2v1h-2zM47 13h1v1h-1zM49 13h2v1h-2zM49 14h4v1h-4zM71 14h2v1h-2zM53 16h17v1h-17zM49 17h1v1h-1zM51 17h1v1h-1zM70 17h1v1h-1zM74 17h2v1h-2zM77 17h1v1h-1zM49 18h2v1h-2zM47 19h5v1h-5zM49 20h3v1h-3zM53 21h2v1h-2zM57 21h1v1h-1zM59 21h2v1h-2zM64 21h1v1h-1zM66 21h2v1h-2zM69 21h1v1h-1zM71 21h2v1h-2zM74 21h1v1h-1zM78 21h1v1h-1zM51 22h2v1h-2zM70 22h1v1h-1zM72 22h4v1h-4zM77 22h2v1h-2zM50 23h3v1h-3zM70 23h3v1h-3zM74 23h1v1h-1zM76 23h2v1h-2zM48 24h4v1h-4zM50 25h3v1h-3zM72 25h1v1h-1zM74 25h1v1h-1zM76 25h2v1h-2zM49 26h4v1h-4zM71 26h1v1h-1zM73 26h1v1h-1zM75 26h1v1h-1zM53 28h6v1h-6zM61 28h3v1h-3zM65 28h2v1h-2zM69 28h2v1h-2zM73 28h1v1h-1zM75 28h2v1h-2zM47 29h3v1h-3zM49 30h1v1h-1zM51 30h2v1h-2zM71 30h1v1h-1zM73 30h1v1h-1zM75 30h1v1h-1zM77 30h1v1h-1zM52 31h1v1h-1zM56 31h1v1h-1zM70 31h5v1h-5zM76 31h3v1h-3zM49 32h4v1h-4zM70 32h1v1h-1zM49 33h3v1h-3zM75 33h1v1h-1zM48 34h3v1h-3zM49 36h1v1h-1zM51 36h2v1h-2zM70 36h4v1h-4zM78 36h1v1h-1zM48 37h5v1h-5zM72 37h2v1h-2zM48 38h1v1h-1zM50 38h2v1h-2zM71 38h1v1h-1zM73 38h2v1h-2zM78 38h1v1h-1zM50 39h3v1h-3zM71 39h2v1h-2zM75 39h2v1h-2zM53 41h1v1h-1zM59 41h2v1h-2zM62 41h2v1h-2zM65 41h1v1h-1zM67 41h1v1h-1zM48 42h2v1h-2zM48 43h3v1h-3zM47 44h4v1h-4z"/>
<path fill="#001aff" d="M53 0h5v1h-5zM59 0h3v1h-3zM63 0h7v1h-7zM53 1h2v1h-2zM56 1h1v1h-1zM58 1h3v1h-3zM63 1h1v1h-1zM65 1h3v1h-3zM76 1h1v1h-1zM78 1h1v1h-1zM54 3h1v1h-1zM57 3h1v1h-1zM61 3h1v1h-1zM65 3h1v1h-1zM67 3h1v1h-1zM54 4h6v1h-6zM61 4h6v1h-6zM69 4h1v1h-1zM54 5h1v1h-1zM56 5h4v1h-4zM61 5h2v1h-2zM69 5h1v1h-1zM53 7h1v1h-1zM55 7h1v1h-1zM62 7h1v1h-1zM64 7h1v1h-1zM66 7h1v1h-1zM69 7h1v1h-1zM53 8h17v1h-17zM53 9h3v1h-3zM58 9h4v1h-4zM66 9h3v1h-3zM53 10h2v1h-2zM56 10h1v1h-1zM59 10h3v1h-3zM63 10h1v1h-1zM66 10h4v1h-4zM53 11h4v1h-4zM58 11h3v1h-3zM62 11h4v1h-4zM67 11h1v1h-1zM69 11h1v1h-1zM53 12h1v1h-1zM58 12h1v1h-1zM63 12h1v1h-1zM69 12h1v1h-1zM76 12h2v1h-2zM53 13h2v1h-2zM61 13h5v1h-5zM76 13h1v1h-1zM54 14h16v1h-16zM54 17h1v1h-1zM56 17h10v1h-10zM67 17h3v1h-3zM53 18h1v1h-1zM56 18h1v1h-1zM62 18h1v1h-1zM65 18h1v1h-1zM67 18h2v1h-2zM53 19h1v1h-1zM55 19h1v1h-1zM57 19h1v1h-1zM61 19h2v1h-2zM64 19h2v1h-2zM68 19h2v1h-2zM73 19h1v1h-1zM75 19h1v1h-1zM53 20h15v1h-15zM69 20h1v1h-1zM56 22h1v1h-1zM58 22h1v1h-1zM60 22h3v1h-3zM65 22h1v1h-1zM68 22h2v1h-2zM54 23h8v1h-8zM63 23h3v1h-3zM67 23h2v1h-2zM57 24h1v1h-1zM59 24h2v1h-2zM65 24h1v1h-1zM70 24h2v1h-2zM77 24h2v1h-2zM54 25h2v1h-2zM59 25h1v1h-1zM65 25h5v1h-5zM55 26h2v1h-2zM58 26h3v1h-3zM63 26h7v1h-7zM57 29h1v1h-1zM67 29h1v1h-1zM70 29h1v1h-1zM55 30h1v1h-1zM57 30h2v1h-2zM61 30h4v1h-4zM66 30h2v1h-2zM69 30h1v1h-1zM53 32h17v1h-17zM53 33h4v1h-4zM58 33h5v1h-5zM65 33h5v1h-5zM53 34h2v1h-2zM56 34h2v1h-2zM59 34h1v1h-1zM61 34h2v1h-2zM67 34h3v1h-3zM55 36h1v1h-1zM57 36h1v1h-1zM61 36h4v1h-4zM66 36h4v1h-4zM53 37h17v1h-17zM54 38h16v1h-16zM55 39h4v1h-4zM60 39h4v1h-4zM66 39h4v1h-4zM54 42h1v1h-1zM71 42h1v1h-1zM78 42h1v1h-1zM53 43h1v1h-1zM72 43h1v1h-1zM78 43h1v1h-1zM65 44h1v1h-1zM70 44h2v1h-2zM73 44h1v1h-1zM75 44h1v1h-1zM78 44h1v1h-1z"/>
<path fill="#000dff" d="M58 0h1v1h-1zM62 0h1v1h-1zM70 0h4v1h-4zM77 0h2v1h-2zM51 1h2v1h-2zM70 1h6v1h-6zM77 1h1v1h-1zM53 3h1v1h-1zM55 3h2v1h-2zM58 3h3v1h-3zM62 3h3v1h-3zM66 3h1v1h-1zM68 3h2v1h-2zM71 3h1v1h-1zM77 3h2v1h-2zM53 4h1v1h-1zM60 4h1v1h-1zM67 4h2v1h-2zM71 4h1v1h-1zM73 4h6v1h-6zM53 5h1v1h-1zM55 5h1v1h-1zM60 5h1v1h-1zM63 5h6v1h-6zM75 5h2v1h-2zM51 7h1v1h-1zM70 7h9v1h-9zM70 8h5v1h-5zM77 8h2v1h-2zM56 9h2v1h-2zM62 9h4v1h-4zM69 9h2v1h-2zM73 9h1v1h-1zM76 9h1v1h-1zM52 10h1v1h-1zM70 10h9v1h-9zM51 11h2v1h-2zM70 11h9v1h-9zM51 12h2v1h-2zM70 12h6v1h-6zM78 12h1v1h-1zM51 13h2v1h-2zM70 13h6v1h-6zM77 13h2v1h-2zM53 14h1v1h-1zM70 14h1v1h-1zM73 14h6v1h-6zM52 17h2v1h-2zM55 17h1v1h-1zM66 17h1v1h-1zM71 17h3v1h-3zM76 17h1v1h-1zM78 17h1v1h-1zM51 18h2v1h-2zM70 18h9v1h-9zM52 19h1v1h-1zM70 19h3v1h-3zM74 19h1v1h-1zM76 19h3v1h-3zM52 20h1v1h-1zM70 20h9v1h-9zM55 21h2v1h-2zM58 21h1v1h-1zM61 21h3v1h-3zM65 21h1v1h-1zM68 21h1v1h-1zM53 22h3v1h-3zM57 22h1v1h-1zM59 22h1v1h-1zM63 22h2v1h-2zM66 22h2v1h-2zM71 22h1v1h-1zM76 22h1v1h-1zM53 23h1v1h-1zM62 23h1v1h-1zM66 23h1v1h-1zM69 23h1v1h-1zM73 23h1v1h-1zM75 23h1v1h-1zM78 23h1v1h-1zM52 24h1v1h-1zM72 24h5v1h-5zM53 25h1v1h-1zM56 25h3v1h-3zM60 25h5v1h-5zM70 25h2v1h-2zM73 25h1v1h-1zM75 25h1v1h-1zM78 25h1v1h-1zM53 26h2v1h-2zM57 26h1v1h-1zM61 26h2v1h-2zM70 26h1v1h-1zM72 26h1v1h-1zM74 26h1v1h-1zM76 26h3v1h-3zM59 28h2v1h-2zM64 28h1v1h-1zM67 28h2v1h-2zM50 29h3v1h-3zM71 29h8v1h-8zM53 30h2v1h-2zM56 30h1v1h-1zM59 30h2v1h-2zM65 30h1v1h-1zM68 30h1v1h-1zM70 30h1v1h-1zM72 30h1v1h-1zM74 30h1v1h-1zM76 30h1v1h-1zM78 30h1v1h-1zM53 31h3v1h-3zM57 31h13v1h-13zM71 32h8v1h-8zM52 33h1v1h-1zM70 33h5v1h-5zM76 33h3v1h-3zM51 34h2v1h-2zM70 34h9v1h-9zM53 36h2v1h-2zM56 36h1v1h-1zM58 36h3v1h-3zM65 36h1v1h-1zM74 36h4v1h-4zM70 37h2v1h-2zM74 37h5v1h-5zM52 38h2v1h-2zM70 38h1v1h-1zM72 38h1v1h-1zM75 38h3v1h-3zM53 39h2v1h-2zM59 39h1v1h-1zM64 39h2v1h-2zM70 39h1v1h-1zM73 39h2v1h-2zM77 39h2v1h-2zM50 42h3v1h-3zM70 42h1v1h-1zM72 42h6v1h-6zM51 43h2v1h-2zM70 43h2v1h-2zM73 43h5v1h-5zM51 44h2v1h-2zM72 44h1v1h-1zM74 44h1v1h-1zM76 44h2v1h-2z"/>
<path fill="#00f0ff" d="M31 1h1v1h-1z"/>
<path fill="#57ffa8" d="M32 1h1v1h-1z"/>
<path fill="#00b3ff" d="M33 1h1v1h-1z"/>
<path fill="#0026ff" d="M55 1h1v1h-1zM57 1h1v1h-1zM61 1h2v1h-2zM64 1h1v1h-1zM68 1h2v1h-2zM54 7h1v1h-1zM56 7h6v1h-6zM63 7h1v1h-1zM65 7h1v1h-1zM67 7h2v1h-2zM55 10h1v1h-1zM57 10h2v1h-2zM62 10h1v1h-1zM64 10h2v1h-2zM57 11h1v1h-1zM61 11h1v1h-1zM66 11h1v1h-1zM68 11h1v1h-1zM54 12h4v1h-4zM59 12h4v1h-4zM64 12h5v1h-5zM55 13h6v1h-6zM66 13h4v1h-4zM54 18h2v1h-2zM57 18h5v1h-5zM63 18h2v1h-2zM66 18h1v1h-1zM69 18h1v1h-1zM54 19h1v1h-1zM56 19h1v1h-1zM58 19h3v1h-3zM63 19h1v1h-1zM66 19h2v1h-2zM68 20h1v1h-1zM53 24h4v1h-4zM58 24h1v1h-1zM61 24h4v1h-4zM66 24h4v1h-4zM53 29h4v1h-4zM58 29h9v1h-9zM68 29h2v1h-2zM57 33h1v1h-1zM63 33h2v1h-2zM55 34h1v1h-1zM58 34h1v1h-1zM60 34h1v1h-1zM63 34h4v1h-4zM53 42h1v1h-1zM55 42h15v1h-15zM54 43h16v1h-16zM53 44h12v1h-12zM66 44h4v1h-4z"/>
<path fill="#009eff" d="M31 2h2v1h-2z"/>
<path fill="#000fff" d="M32 11h3v1h-3z"/>
</g>
<rect x="448.1" y="342.6" width="3.7" height="229" fill="#b8f0b0"/>
<rect x="462" y="342.6" width="2.8" height="229" fill="#ef94e2"/>
<rect x="367.4" y="342.3" width="2.6" height="229.6" fill="#000"/>
<text x="367" y="385.2" font-size="15.5" text-anchor="end" font-weight="normal">40</text>
<text x="367" y="435" font-size="15.5" text-anchor="end" font-weight="normal">30</text>
<text x="367" y="483.9" font-size="15.5" text-anchor="end" font-weight="normal">20</text>
<text x="367" y="533.2" font-size="15.5" text-anchor="end" font-weight="normal">10</text>
<text x="366.9" y="586.6" font-size="15" text-anchor="middle" font-weight="normal">-500</text>
<text x="410.3" y="586.6" font-size="15" text-anchor="middle" font-weight="normal">-250</text>
<text x="443.4" y="586.6" font-size="15" text-anchor="middle" font-weight="normal">0</text>
<text x="489.3" y="586.6" font-size="15" text-anchor="middle" font-weight="normal">250</text>
<text x="529.9" y="586.6" font-size="15" text-anchor="middle" font-weight="normal">500</text>
<text x="570.8" y="586.6" font-size="15" text-anchor="middle" font-weight="normal">750</text>
<text x="615.1" y="586.6" font-size="15" text-anchor="middle" font-weight="normal">1000</text>
<text x="499" y="604.1" font-size="19.5" text-anchor="middle" font-weight="normal">Time (ms)</text>
<g shape-rendering="crispEdges" transform="translate(50.6 636.3) scale(3.23750 4.91915)">
<path fill="#800000" d="M0 0h3v1h-3zM0 1h14v1h-14zM0 3h15v1h-15zM0 4h29v1h-29zM0 5h5v1h-5zM8 5h3v1h-3zM0 6h16v1h-16zM0 7h14v1h-14zM0 8h14v1h-14zM0 9h15v1h-15zM0 10h15v1h-15zM0 11h15v1h-15zM0 12h15v1h-15zM0 13h5v1h-5zM0 14h21v1h-21zM1 15h3v1h-3zM0 17h5v1h-5zM0 18h13v1h-13zM0 19h12v1h-12zM0 20h5v1h-5zM7 20h8v1h-8zM0 21h5v1h-5zM7 21h8v1h-8zM0 22h16v1h-16zM0 23h16v1h-16zM0 24h17v1h-17zM0 26h18v1h-18zM0 27h20v1h-20zM0 30h7v1h-7zM8 30h7v1h-7zM0 31h15v1h-15zM0 32h1v1h-1zM2 32h4v1h-4zM9 32h3v1h-3zM0 33h13v1h-13zM0 34h3v1h-3zM0 35h6v1h-6zM8 35h5v1h-5zM0 37h17v1h-17zM0 38h6v1h-6zM7 38h7v1h-7zM0 39h4v1h-4zM10 39h2v1h-2zM0 40h3v1h-3zM0 41h13v1h-13zM0 43h2v1h-2zM0 44h5v1h-5z"/>
<path fill="#99ff66" d="M3 0h3v1h-3zM17 1h1v1h-1zM29 1h1v1h-1zM37 4h1v1h-1zM5 5h2v1h-2zM14 7h4v1h-4zM0 16h2v1h-2zM13 17h1v1h-1zM17 18h1v1h-1zM16 19h1v1h-1zM18 19h1v1h-1zM16 20h2v1h-2zM15 21h1v1h-1zM20 23h1v1h-1zM13 25h1v1h-1zM23 26h2v1h-2zM26 26h1v1h-1zM24 27h1v1h-1zM5 29h1v1h-1zM17 30h1v1h-1zM19 30h3v1h-3zM16 31h1v1h-1zM20 31h1v1h-1zM15 32h2v1h-2zM15 34h2v1h-2zM15 35h2v1h-2zM2 36h1v1h-1zM19 37h1v1h-1zM16 38h1v1h-1zM15 40h1v1h-1zM4 43h1v1h-1zM7 43h1v1h-1zM14 43h1v1h-1zM3 45h1v1h-1zM9 46h2v1h-2zM13 46h1v1h-1z"/>
<path fill="#ff1a00" d="M6 0h1v1h-1zM10 0h1v1h-1zM30 4h1v1h-1zM76 4h2v1h-2zM11 5h1v1h-1zM20 6h1v1h-1zM15 10h2v1h-2zM6 13h1v1h-1zM10 13h1v1h-1zM12 13h1v1h-1zM13 18h1v1h-1zM5 20h1v1h-1zM20 27h1v1h-1zM4 34h1v1h-1zM13 34h1v1h-1zM14 35h1v1h-1zM4 39h1v1h-1zM7 39h1v1h-1zM9 39h1v1h-1zM3 40h1v1h-1zM7 40h1v1h-1zM10 40h2v1h-2zM13 41h1v1h-1zM6 44h1v1h-1z"/>
<path fill="#ff0000" d="M7 0h1v1h-1zM11 0h1v1h-1zM17 3h1v1h-1zM16 6h2v1h-2zM21 14h1v1h-1zM27 14h2v1h-2zM14 18h1v1h-1zM14 19h1v1h-1zM17 24h2v1h-2zM7 30h1v1h-1zM1 32h1v1h-1zM14 32h1v1h-1zM13 33h1v1h-1zM3 34h1v1h-1zM14 34h1v1h-1zM6 35h2v1h-2zM6 38h1v1h-1zM4 40h1v1h-1zM16 41h1v1h-1zM2 43h2v1h-2zM5 44h1v1h-1zM1 46h2v1h-2z"/>
<path fill="#e50000" d="M8 0h2v1h-2zM15 3h2v1h-2zM29 4h1v1h-1zM12 5h1v1h-1zM18 6h2v1h-2zM21 6h1v1h-1zM17 10h1v1h-1zM5 13h1v1h-1zM11 13h1v1h-1zM22 14h1v1h-1zM0 15h1v1h-1zM12 19h2v1h-2zM6 20h1v1h-1zM16 23h1v1h-1zM0 25h1v1h-1zM0 29h1v1h-1zM13 32h1v1h-1zM14 33h1v1h-1zM13 35h1v1h-1zM14 38h1v1h-1zM5 39h1v1h-1zM8 39h1v1h-1zM12 39h1v1h-1zM9 40h1v1h-1zM12 40h1v1h-1zM8 44h2v1h-2zM11 44h2v1h-2z"/>
<path fill="#ffff00" d="M12 0h1v1h-1zM15 1h1v1h-1zM19 3h1v1h-1zM36 4h1v1h-1zM15 5h1v1h-1zM18 10h1v1h-1zM16 12h1v1h-1zM7 13h1v1h-1zM15 13h2v1h-2zM10 15h2v1h-2zM13 15h1v1h-1zM6 16h1v1h-1zM10 17h1v1h-1zM5 21h1v1h-1zM5 25h2v1h-2zM8 25h1v1h-1zM1 29h1v1h-1zM8 32h1v1h-1zM7 34h1v1h-1zM9 34h1v1h-1zM13 39h1v1h-1zM5 43h1v1h-1zM11 43h1v1h-1zM1 45h1v1h-1z"/>
<path fill="#ffe500" d="M13 0h2v1h-2zM14 1h1v1h-1zM16 1h1v1h-1zM18 3h1v1h-1zM20 3h1v1h-1zM35 4h1v1h-1zM16 5h1v1h-1zM14 8h1v1h-1zM15 12h1v1h-1zM8 13h1v1h-1zM13 13h2v1h-2zM9 15h1v1h-1zM12 15h1v1h-1zM14 15h2v1h-2zM11 17h1v1h-1zM15 19h1v1h-1zM6 21h1v1h-1zM17 23h1v1h-1zM9 25h1v1h-1zM20 26h1v1h-1zM4 29h1v1h-1zM15 31h1v1h-1zM15 33h1v1h-1zM8 34h1v1h-1zM10 34h1v1h-1zM3 36h1v1h-1zM14 39h1v1h-1zM13 40h2v1h-2zM9 43h1v1h-1zM12 43h1v1h-1zM15 44h1v1h-1zM4 46h1v1h-1z"/>
<path fill="#ff9900" d="M15 0h1v1h-1zM21 10h1v1h-1zM22 27h1v1h-1zM6 40h1v1h-1z"/>
<path fill="#ff4c00" d="M16 0h1v1h-1zM22 10h1v1h-1zM5 40h1v1h-1zM10 44h1v1h-1zM3 46h1v1h-1z"/>
<path fill="#66ff99" d="M17 0h1v1h-1zM16 8h1v1h-1zM19 8h1v1h-1zM17 13h1v1h-1zM19 13h1v1h-1zM22 13h1v1h-1zM30 14h2v1h-2zM38 14h1v1h-1zM23 21h3v1h-3zM19 22h2v1h-2zM23 24h2v1h-2z"/>
<path fill="#1affe5" d="M18 0h1v1h-1zM19 1h1v1h-1zM21 1h1v1h-1zM23 3h3v1h-3zM17 5h1v1h-1zM24 5h1v1h-1zM26 5h1v1h-1zM22 6h1v1h-1zM21 7h2v1h-2zM18 9h1v1h-1zM22 9h1v1h-1zM23 10h1v1h-1zM25 10h1v1h-1zM76 10h2v1h-2zM22 12h1v1h-1zM24 12h2v1h-2zM16 15h1v1h-1zM7 16h1v1h-1zM10 16h1v1h-1zM12 16h1v1h-1zM15 17h1v1h-1zM17 17h2v1h-2zM76 17h2v1h-2zM22 18h1v1h-1zM78 19h2v1h-2zM22 20h1v1h-1zM76 20h2v1h-2zM23 22h1v1h-1zM26 22h1v1h-1zM18 23h1v1h-1zM12 29h2v1h-2zM26 30h1v1h-1zM17 33h1v1h-1zM18 34h1v1h-1zM78 35h2v1h-2zM0 36h1v1h-1zM7 36h1v1h-1zM22 37h1v1h-1zM15 38h1v1h-1zM18 38h1v1h-1zM17 41h1v1h-1zM16 43h1v1h-1zM18 44h1v1h-1zM21 44h1v1h-1zM4 45h1v1h-1z"/>
<path fill="#00ffff" d="M19 0h1v1h-1zM22 0h1v1h-1zM44 4h2v1h-2zM72 4h2v1h-2zM23 5h1v1h-1zM23 6h2v1h-2zM26 6h1v1h-1zM18 7h1v1h-1zM76 7h2v1h-2zM22 8h1v1h-1zM17 9h1v1h-1zM19 9h3v1h-3zM78 10h2v1h-2zM20 11h3v1h-3zM20 12h1v1h-1zM23 12h1v1h-1zM17 15h1v1h-1zM4 16h2v1h-2zM8 16h1v1h-1zM11 16h1v1h-1zM21 17h2v1h-2zM78 17h2v1h-2zM21 20h1v1h-1zM20 21h3v1h-3zM25 22h1v1h-1zM23 23h2v1h-2zM10 25h3v1h-3zM15 25h1v1h-1zM28 27h1v1h-1zM32 27h6v1h-6zM0 28h1v1h-1zM8 29h1v1h-1zM10 29h2v1h-2zM14 29h1v1h-1zM76 29h2v1h-2zM22 30h3v1h-3zM22 32h1v1h-1zM17 34h1v1h-1zM76 34h2v1h-2zM17 35h2v1h-2zM1 36h1v1h-1zM9 36h1v1h-1zM20 37h2v1h-2zM29 37h1v1h-1zM76 37h2v1h-2zM19 38h1v1h-1zM76 38h2v1h-2zM18 41h2v1h-2zM17 43h1v1h-1zM78 43h2v1h-2zM19 44h2v1h-2zM78 45h2v1h-2z"/>
<path fill="#00e5ff" d="M20 0h2v1h-2zM76 0h2v1h-2zM18 1h1v1h-1zM20 1h1v1h-1zM22 1h1v1h-1zM40 4h4v1h-4zM71 4h1v1h-1zM25 5h1v1h-1zM25 6h1v1h-1zM76 6h2v1h-2zM19 7h1v1h-1zM24 10h1v1h-1zM18 11h2v1h-2zM21 12h1v1h-1zM9 16h1v1h-1zM16 17h1v1h-1zM19 17h2v1h-2zM21 18h1v1h-1zM20 19h1v1h-1zM19 20h2v1h-2zM19 21h1v1h-1zM24 22h1v1h-1zM19 23h1v1h-1zM25 23h2v1h-2zM27 26h4v1h-4zM27 27h1v1h-1zM31 27h1v1h-1zM1 28h1v1h-1zM7 29h1v1h-1zM25 30h1v1h-1zM22 31h1v1h-1zM78 32h2v1h-2zM6 36h1v1h-1zM32 37h1v1h-1zM18 40h2v1h-2zM1 42h2v1h-2zM15 43h1v1h-1zM22 44h1v1h-1z"/>
<path fill="#001aff" d="M23 0h4v1h-4zM29 0h1v1h-1zM32 0h2v1h-2zM36 0h2v1h-2zM40 0h4v1h-4zM76 1h4v1h-4zM30 2h16v1h-16zM30 3h4v1h-4zM36 3h2v1h-2zM40 3h2v1h-2zM44 3h2v1h-2zM76 3h2v1h-2zM50 4h2v1h-2zM58 4h1v1h-1zM32 5h2v1h-2zM40 5h2v1h-2zM44 5h2v1h-2zM76 5h4v1h-4zM30 6h2v1h-2zM34 6h4v1h-4zM40 6h4v1h-4zM78 6h2v1h-2zM20 7h1v1h-1zM27 7h1v1h-1zM34 7h4v1h-4zM40 7h2v1h-2zM78 7h2v1h-2zM27 8h1v1h-1zM32 8h4v1h-4zM38 8h8v1h-8zM78 8h2v1h-2zM27 9h1v1h-1zM32 9h14v1h-14zM76 9h2v1h-2zM30 10h4v1h-4zM38 10h2v1h-2zM23 11h1v1h-1zM25 11h2v1h-2zM29 11h1v1h-1zM32 11h8v1h-8zM44 11h2v1h-2zM76 11h4v1h-4zM30 12h6v1h-6zM40 12h6v1h-6zM30 13h2v1h-2zM76 13h4v1h-4zM44 14h2v1h-2zM23 15h1v1h-1zM25 15h1v1h-1zM28 15h2v1h-2zM32 15h10v1h-10zM44 15h2v1h-2zM78 15h2v1h-2zM29 16h7v1h-7zM38 16h4v1h-4zM76 16h4v1h-4zM28 17h2v1h-2zM32 17h2v1h-2zM36 17h8v1h-8zM32 18h2v1h-2zM40 18h6v1h-6zM76 18h4v1h-4zM22 19h1v1h-1zM25 19h2v1h-2zM29 19h3v1h-3zM36 19h10v1h-10zM28 20h4v1h-4zM36 20h2v1h-2zM40 20h2v1h-2zM44 20h2v1h-2zM78 20h2v1h-2zM28 21h10v1h-10zM40 21h2v1h-2zM44 21h2v1h-2zM76 21h4v1h-4zM29 22h9v1h-9zM44 22h2v1h-2zM29 23h1v1h-1zM34 23h6v1h-6zM42 23h2v1h-2zM78 23h2v1h-2zM28 24h2v1h-2zM38 24h2v1h-2zM42 24h4v1h-4zM76 24h2v1h-2zM20 25h1v1h-1zM32 25h6v1h-6zM42 25h2v1h-2zM38 26h2v1h-2zM42 26h4v1h-4zM78 26h2v1h-2zM38 27h2v1h-2zM44 27h2v1h-2zM76 27h4v1h-4zM3 28h2v1h-2zM7 28h3v1h-3zM12 28h2v1h-2zM16 28h1v1h-1zM22 28h1v1h-1zM32 28h2v1h-2zM38 28h8v1h-8zM20 29h1v1h-1zM23 29h1v1h-1zM27 29h19v1h-19zM78 29h2v1h-2zM29 30h3v1h-3zM34 30h4v1h-4zM42 30h2v1h-2zM27 31h1v1h-1zM29 31h1v1h-1zM36 31h2v1h-2zM40 31h2v1h-2zM76 31h4v1h-4zM30 32h2v1h-2zM36 32h10v1h-10zM76 32h2v1h-2zM24 33h1v1h-1zM28 33h2v1h-2zM32 33h8v1h-8zM42 33h4v1h-4zM19 34h1v1h-1zM21 34h1v1h-1zM29 34h5v1h-5zM40 34h6v1h-6zM19 35h1v1h-1zM23 35h1v1h-1zM26 35h1v1h-1zM30 35h4v1h-4zM36 35h8v1h-8zM76 35h2v1h-2zM17 36h1v1h-1zM23 36h1v1h-1zM29 36h7v1h-7zM38 36h4v1h-4zM76 36h4v1h-4zM25 37h2v1h-2zM33 37h1v1h-1zM36 37h2v1h-2zM40 37h2v1h-2zM44 37h2v1h-2zM23 38h1v1h-1zM25 38h2v1h-2zM28 38h8v1h-8zM38 38h2v1h-2zM25 39h1v1h-1zM27 39h1v1h-1zM29 39h7v1h-7zM38 39h8v1h-8zM26 40h1v1h-1zM28 40h8v1h-8zM38 40h4v1h-4zM44 40h2v1h-2zM24 41h1v1h-1zM27 41h1v1h-1zM30 41h4v1h-4zM40 41h2v1h-2zM44 41h2v1h-2zM76 41h4v1h-4zM9 42h3v1h-3zM16 42h1v1h-1zM30 42h2v1h-2zM34 42h8v1h-8zM44 42h2v1h-2zM76 42h4v1h-4zM29 43h11v1h-11zM42 43h4v1h-4zM32 44h2v1h-2zM36 44h2v1h-2zM42 44h4v1h-4zM76 44h4v1h-4zM23 45h1v1h-1zM26 45h1v1h-1zM29 45h3v1h-3zM34 45h12v1h-12zM23 46h3v1h-3zM28 46h6v1h-6zM36 46h2v1h-2zM44 46h2v1h-2zM76 46h4v1h-4z"/>
<path fill="#0033ff" d="M27 0h2v1h-2zM48 0h2v1h-2zM28 1h1v1h-1zM50 2h2v1h-2zM27 3h1v1h-1zM54 3h2v1h-2zM56 4h2v1h-2zM62 4h1v1h-1zM46 5h4v1h-4zM27 6h1v1h-1zM52 6h4v1h-4zM56 7h1v1h-1zM20 8h1v1h-1zM23 8h3v1h-3zM48 8h2v1h-2zM54 8h2v1h-2zM46 9h2v1h-2zM26 10h2v1h-2zM24 11h1v1h-1zM28 11h1v1h-1zM27 12h1v1h-1zM19 15h1v1h-1zM21 15h1v1h-1zM26 15h2v1h-2zM56 15h1v1h-1zM2 16h2v1h-2zM46 16h2v1h-2zM24 17h1v1h-1zM26 17h2v1h-2zM48 17h2v1h-2zM54 17h2v1h-2zM24 18h2v1h-2zM46 18h2v1h-2zM54 18h2v1h-2zM23 19h1v1h-1zM27 19h2v1h-2zM46 19h2v1h-2zM52 19h2v1h-2zM27 20h1v1h-1zM27 21h1v1h-1zM54 22h2v1h-2zM48 23h2v1h-2zM1 25h1v1h-1zM21 25h1v1h-1zM24 25h2v1h-2zM46 26h4v1h-4zM5 28h2v1h-2zM11 28h1v1h-1zM14 28h1v1h-1zM18 28h2v1h-2zM21 28h1v1h-1zM19 29h1v1h-1zM21 29h1v1h-1zM25 29h1v1h-1zM46 29h2v1h-2zM50 29h2v1h-2zM27 30h2v1h-2zM50 30h2v1h-2zM28 31h1v1h-1zM24 32h1v1h-1zM27 32h1v1h-1zM46 32h2v1h-2zM19 33h1v1h-1zM25 33h2v1h-2zM54 33h2v1h-2zM23 34h2v1h-2zM28 34h1v1h-1zM54 34h2v1h-2zM20 35h3v1h-3zM25 35h1v1h-1zM27 35h1v1h-1zM16 36h1v1h-1zM19 36h1v1h-1zM25 36h1v1h-1zM27 36h2v1h-2zM54 36h2v1h-2zM23 37h1v1h-1zM28 37h1v1h-1zM48 37h2v1h-2zM24 38h1v1h-1zM27 38h1v1h-1zM54 38h2v1h-2zM24 39h1v1h-1zM26 39h1v1h-1zM28 39h1v1h-1zM23 40h3v1h-3zM25 41h2v1h-2zM48 41h2v1h-2zM56 41h1v1h-1zM7 42h1v1h-1zM12 42h1v1h-1zM15 42h1v1h-1zM17 42h3v1h-3zM22 42h1v1h-1zM24 43h3v1h-3zM28 43h1v1h-1zM23 44h2v1h-2zM17 45h1v1h-1zM22 45h1v1h-1zM24 45h2v1h-2zM28 45h1v1h-1zM52 45h2v1h-2zM27 46h1v1h-1z"/>
<path fill="#004dff" d="M30 0h2v1h-2zM34 0h2v1h-2zM38 0h2v1h-2zM71 0h1v1h-1zM27 1h1v1h-1zM74 1h2v1h-2zM74 2h2v1h-2zM26 3h1v1h-1zM28 3h2v1h-2zM34 3h2v1h-2zM38 3h2v1h-2zM42 3h2v1h-2zM71 3h1v1h-1zM74 3h2v1h-2zM67 4h1v1h-1zM20 5h2v1h-2zM27 5h5v1h-5zM34 5h2v1h-2zM42 5h2v1h-2zM74 5h2v1h-2zM28 6h2v1h-2zM38 6h2v1h-2zM44 6h2v1h-2zM28 7h4v1h-4zM44 7h2v1h-2zM72 7h4v1h-4zM21 8h1v1h-1zM26 8h1v1h-1zM28 8h4v1h-4zM36 8h2v1h-2zM71 8h5v1h-5zM23 9h3v1h-3zM28 9h4v1h-4zM52 9h2v1h-2zM36 10h2v1h-2zM42 10h4v1h-4zM72 10h2v1h-2zM27 11h1v1h-1zM30 11h2v1h-2zM40 11h4v1h-4zM72 11h2v1h-2zM28 12h2v1h-2zM38 12h2v1h-2zM32 13h12v1h-12zM18 15h1v1h-1zM20 15h1v1h-1zM24 15h1v1h-1zM30 15h2v1h-2zM42 15h2v1h-2zM54 15h2v1h-2zM42 16h4v1h-4zM74 16h2v1h-2zM23 17h1v1h-1zM23 18h1v1h-1zM26 18h6v1h-6zM36 18h4v1h-4zM21 19h1v1h-1zM32 19h4v1h-4zM34 20h2v1h-2zM38 20h2v1h-2zM74 20h2v1h-2zM38 21h2v1h-2zM42 21h2v1h-2zM40 22h4v1h-4zM74 22h2v1h-2zM32 23h2v1h-2zM44 23h2v1h-2zM30 24h4v1h-4zM36 24h2v1h-2zM40 24h2v1h-2zM19 25h1v1h-1zM22 25h1v1h-1zM27 25h5v1h-5zM38 25h4v1h-4zM40 26h2v1h-2zM71 26h5v1h-5zM40 27h4v1h-4zM2 28h1v1h-1zM10 28h1v1h-1zM17 28h1v1h-1zM20 28h1v1h-1zM29 28h1v1h-1zM34 28h4v1h-4zM71 28h1v1h-1zM74 28h2v1h-2zM22 29h1v1h-1zM24 29h1v1h-1zM26 29h1v1h-1zM74 29h2v1h-2zM40 30h2v1h-2zM44 30h2v1h-2zM30 31h4v1h-4zM42 31h4v1h-4zM72 31h2v1h-2zM23 32h1v1h-1zM25 32h2v1h-2zM32 32h4v1h-4zM71 32h1v1h-1zM20 33h3v1h-3zM27 33h1v1h-1zM40 33h2v1h-2zM71 33h1v1h-1zM20 34h1v1h-1zM25 34h2v1h-2zM34 34h6v1h-6zM50 34h2v1h-2zM72 34h4v1h-4zM24 35h1v1h-1zM44 35h2v1h-2zM74 35h2v1h-2zM18 36h1v1h-1zM20 36h1v1h-1zM24 36h1v1h-1zM26 36h1v1h-1zM36 36h2v1h-2zM42 36h4v1h-4zM71 36h1v1h-1zM24 37h1v1h-1zM27 37h1v1h-1zM34 37h2v1h-2zM38 37h2v1h-2zM42 37h2v1h-2zM46 37h2v1h-2zM36 38h2v1h-2zM40 38h6v1h-6zM74 38h2v1h-2zM21 39h3v1h-3zM36 39h2v1h-2zM48 39h2v1h-2zM27 40h1v1h-1zM36 40h2v1h-2zM42 40h2v1h-2zM23 41h1v1h-1zM34 41h2v1h-2zM6 42h1v1h-1zM13 42h1v1h-1zM20 42h1v1h-1zM32 42h2v1h-2zM42 42h2v1h-2zM74 42h2v1h-2zM23 43h1v1h-1zM40 43h2v1h-2zM52 43h2v1h-2zM71 43h1v1h-1zM25 44h2v1h-2zM30 44h2v1h-2zM34 44h2v1h-2zM40 44h2v1h-2zM72 44h2v1h-2zM19 45h1v1h-1zM21 45h1v1h-1zM27 45h1v1h-1zM32 45h2v1h-2zM71 45h3v1h-3zM26 46h1v1h-1zM34 46h2v1h-2zM38 46h6v1h-6z"/>
<path fill="#00b3ff" d="M44 0h2v1h-2zM26 1h1v1h-1zM36 1h2v1h-2zM42 1h2v1h-2zM48 1h2v1h-2zM0 2h2v1h-2zM4 2h2v1h-2zM48 4h2v1h-2zM64 4h3v1h-3zM24 7h1v1h-1zM26 7h1v1h-1zM42 7h2v1h-2zM76 8h2v1h-2zM39 14h3v1h-3zM74 15h2v1h-2zM14 16h1v1h-1zM34 18h2v1h-2zM23 20h1v1h-1zM26 20h1v1h-1zM38 22h2v1h-2zM16 25h1v1h-1zM30 28h2v1h-2zM76 28h2v1h-2zM18 29h1v1h-1zM38 30h2v1h-2zM72 30h2v1h-2zM24 31h2v1h-2zM17 32h1v1h-1zM30 33h2v1h-2zM11 36h1v1h-1zM14 36h2v1h-2zM20 40h3v1h-3zM21 41h1v1h-1zM20 43h1v1h-1zM5 45h1v1h-1zM13 45h1v1h-1zM21 46h2v1h-2z"/>
<path fill="#0080ff" d="M46 0h2v1h-2zM78 0h2v1h-2zM24 1h2v1h-2zM32 1h4v1h-4zM40 1h2v1h-2zM44 1h4v1h-4zM2 2h2v1h-2zM76 2h4v1h-4zM78 3h2v1h-2zM70 4h1v1h-1zM18 5h1v1h-1zM38 7h2v1h-2zM56 9h1v1h-1zM78 9h2v1h-2zM34 10h2v1h-2zM36 12h2v1h-2zM76 12h4v1h-4zM42 14h2v1h-2zM50 14h2v1h-2zM78 14h2v1h-2zM76 15h2v1h-2zM36 16h2v1h-2zM46 17h2v1h-2zM24 20h1v1h-1zM32 20h2v1h-2zM27 22h2v1h-2zM78 22h2v1h-2zM27 23h2v1h-2zM30 23h2v1h-2zM40 23h2v1h-2zM76 23h2v1h-2zM78 24h2v1h-2zM18 25h1v1h-1zM76 25h4v1h-4zM32 26h2v1h-2zM36 26h2v1h-2zM76 26h2v1h-2zM78 28h2v1h-2zM9 29h1v1h-1zM16 29h2v1h-2zM32 30h2v1h-2zM54 30h2v1h-2zM78 30h2v1h-2zM23 31h1v1h-1zM26 31h1v1h-1zM18 32h1v1h-1zM20 32h1v1h-1zM29 32h1v1h-1zM76 33h4v1h-4zM78 34h2v1h-2zM78 37h2v1h-2zM20 38h1v1h-1zM78 38h2v1h-2zM76 39h4v1h-4zM76 40h4v1h-4zM38 41h2v1h-2zM42 41h2v1h-2zM0 42h1v1h-1zM19 43h1v1h-1zM21 43h2v1h-2zM76 43h2v1h-2zM29 44h1v1h-1zM71 44h1v1h-1zM8 45h3v1h-3zM14 45h1v1h-1zM76 45h2v1h-2zM19 46h1v1h-1z"/>
<path fill="#0000ff" d="M50 0h2v1h-2zM68 0h2v1h-2zM74 0h2v1h-2zM68 1h2v1h-2zM71 1h3v1h-3zM7 2h2v1h-2zM13 2h1v1h-1zM17 2h1v1h-1zM25 2h1v1h-1zM28 2h1v1h-1zM54 2h3v1h-3zM70 2h1v1h-1zM48 3h6v1h-6zM72 3h2v1h-2zM52 4h4v1h-4zM54 5h3v1h-3zM71 5h3v1h-3zM48 6h2v1h-2zM71 6h5v1h-5zM50 7h2v1h-2zM71 7h1v1h-1zM50 8h4v1h-4zM56 8h1v1h-1zM64 8h2v1h-2zM48 9h4v1h-4zM54 9h2v1h-2zM57 9h1v1h-1zM70 9h1v1h-1zM72 9h4v1h-4zM48 10h4v1h-4zM56 10h1v1h-1zM71 10h1v1h-1zM74 10h2v1h-2zM48 11h6v1h-6zM56 11h1v1h-1zM66 11h2v1h-2zM71 11h1v1h-1zM54 12h3v1h-3zM71 12h1v1h-1zM74 12h2v1h-2zM28 13h1v1h-1zM46 13h11v1h-11zM62 13h2v1h-2zM71 13h3v1h-3zM46 14h2v1h-2zM52 14h2v1h-2zM71 14h5v1h-5zM46 15h2v1h-2zM52 15h2v1h-2zM71 15h1v1h-1zM16 16h1v1h-1zM24 16h1v1h-1zM60 16h2v1h-2zM71 16h3v1h-3zM50 17h2v1h-2zM74 17h2v1h-2zM48 18h6v1h-6zM71 18h3v1h-3zM50 19h2v1h-2zM56 19h1v1h-1zM62 19h2v1h-2zM71 19h5v1h-5zM46 20h4v1h-4zM52 20h2v1h-2zM71 20h3v1h-3zM50 21h6v1h-6zM71 21h5v1h-5zM48 22h2v1h-2zM52 22h2v1h-2zM60 22h2v1h-2zM72 22h2v1h-2zM46 23h2v1h-2zM71 23h1v1h-1zM74 23h2v1h-2zM54 24h2v1h-2zM71 24h5v1h-5zM50 25h2v1h-2zM57 25h1v1h-1zM71 25h5v1h-5zM54 26h3v1h-3zM48 27h4v1h-4zM56 27h1v1h-1zM68 27h2v1h-2zM71 27h5v1h-5zM27 28h2v1h-2zM50 28h2v1h-2zM54 28h2v1h-2zM60 28h2v1h-2zM72 28h2v1h-2zM54 29h2v1h-2zM58 29h2v1h-2zM62 29h2v1h-2zM71 29h3v1h-3zM56 30h1v1h-1zM64 30h2v1h-2zM71 30h1v1h-1zM46 31h2v1h-2zM50 31h4v1h-4zM71 31h1v1h-1zM74 31h2v1h-2zM50 32h4v1h-4zM72 32h4v1h-4zM46 33h6v1h-6zM56 33h1v1h-1zM68 33h2v1h-2zM74 33h2v1h-2zM52 34h2v1h-2zM66 34h2v1h-2zM71 34h1v1h-1zM46 35h2v1h-2zM50 35h6v1h-6zM71 35h3v1h-3zM46 36h2v1h-2zM56 36h1v1h-1zM58 36h2v1h-2zM72 36h2v1h-2zM50 37h4v1h-4zM56 37h1v1h-1zM71 37h5v1h-5zM46 38h8v1h-8zM56 38h1v1h-1zM62 38h2v1h-2zM71 38h3v1h-3zM46 39h2v1h-2zM50 39h2v1h-2zM60 39h8v1h-8zM70 39h1v1h-1zM74 39h2v1h-2zM50 40h4v1h-4zM71 40h5v1h-5zM46 41h2v1h-2zM54 41h2v1h-2zM60 41h2v1h-2zM70 41h1v1h-1zM74 41h2v1h-2zM24 42h1v1h-1zM27 42h2v1h-2zM50 42h7v1h-7zM71 42h3v1h-3zM46 43h6v1h-6zM56 43h1v1h-1zM72 43h4v1h-4zM46 44h4v1h-4zM52 44h2v1h-2zM56 44h1v1h-1zM70 44h1v1h-1zM74 44h2v1h-2zM50 45h2v1h-2zM54 45h2v1h-2zM64 45h2v1h-2zM74 45h2v1h-2zM46 46h2v1h-2zM52 46h2v1h-2zM64 46h2v1h-2zM71 46h3v1h-3z"/>
<path fill="#0000e6" d="M52 0h6v1h-6zM60 0h8v1h-8zM70 0h1v1h-1zM72 0h2v1h-2zM50 1h18v1h-18zM70 1h1v1h-1zM9 2h1v1h-1zM15 2h1v1h-1zM18 2h1v1h-1zM21 2h1v1h-1zM24 2h1v1h-1zM26 2h1v1h-1zM46 2h4v1h-4zM57 2h5v1h-5zM66 2h4v1h-4zM72 2h2v1h-2zM46 3h2v1h-2zM56 3h2v1h-2zM60 3h11v1h-11zM50 5h4v1h-4zM57 5h5v1h-5zM64 5h2v1h-2zM68 5h3v1h-3zM46 6h2v1h-2zM50 6h2v1h-2zM56 6h15v1h-15zM46 7h4v1h-4zM52 7h4v1h-4zM57 7h11v1h-11zM70 7h1v1h-1zM46 8h2v1h-2zM57 8h7v1h-7zM66 8h5v1h-5zM58 9h4v1h-4zM64 9h4v1h-4zM46 10h2v1h-2zM52 10h4v1h-4zM57 10h14v1h-14zM46 11h2v1h-2zM54 11h2v1h-2zM57 11h9v1h-9zM68 11h3v1h-3zM46 12h8v1h-8zM57 12h14v1h-14zM72 12h2v1h-2zM23 13h5v1h-5zM57 13h5v1h-5zM64 13h7v1h-7zM48 14h2v1h-2zM54 14h3v1h-3zM58 14h13v1h-13zM48 15h4v1h-4zM57 15h3v1h-3zM62 15h9v1h-9zM72 15h2v1h-2zM20 16h2v1h-2zM25 16h1v1h-1zM48 16h12v1h-12zM62 16h6v1h-6zM70 16h1v1h-1zM52 17h2v1h-2zM56 17h14v1h-14zM71 17h3v1h-3zM56 18h2v1h-2zM60 18h11v1h-11zM74 18h2v1h-2zM48 19h2v1h-2zM57 19h5v1h-5zM64 19h7v1h-7zM50 20h2v1h-2zM54 20h17v1h-17zM46 21h4v1h-4zM56 21h4v1h-4zM62 21h9v1h-9zM46 22h2v1h-2zM50 22h2v1h-2zM56 22h4v1h-4zM62 22h2v1h-2zM66 22h4v1h-4zM71 22h1v1h-1zM50 23h7v1h-7zM58 23h8v1h-8zM68 23h3v1h-3zM72 23h2v1h-2zM46 24h8v1h-8zM56 24h15v1h-15zM46 25h4v1h-4zM52 25h4v1h-4zM58 25h10v1h-10zM70 25h1v1h-1zM50 26h4v1h-4zM57 26h14v1h-14zM46 27h2v1h-2zM54 27h2v1h-2zM57 27h11v1h-11zM70 27h1v1h-1zM23 28h3v1h-3zM46 28h4v1h-4zM52 28h2v1h-2zM56 28h1v1h-1zM58 28h2v1h-2zM64 28h7v1h-7zM48 29h2v1h-2zM52 29h2v1h-2zM56 29h2v1h-2zM60 29h2v1h-2zM64 29h7v1h-7zM48 30h2v1h-2zM52 30h2v1h-2zM57 30h7v1h-7zM66 30h5v1h-5zM74 30h2v1h-2zM48 31h2v1h-2zM54 31h17v1h-17zM48 32h2v1h-2zM54 32h17v1h-17zM52 33h2v1h-2zM57 33h7v1h-7zM66 33h2v1h-2zM70 33h1v1h-1zM72 33h2v1h-2zM46 34h4v1h-4zM56 34h1v1h-1zM58 34h2v1h-2zM62 34h4v1h-4zM68 34h3v1h-3zM48 35h2v1h-2zM56 35h1v1h-1zM58 35h13v1h-13zM48 36h6v1h-6zM57 36h1v1h-1zM60 36h11v1h-11zM74 36h2v1h-2zM54 37h2v1h-2zM57 37h7v1h-7zM66 37h5v1h-5zM57 38h3v1h-3zM64 38h7v1h-7zM52 39h8v1h-8zM68 39h2v1h-2zM72 39h2v1h-2zM46 40h4v1h-4zM54 40h17v1h-17zM50 41h4v1h-4zM57 41h3v1h-3zM62 41h8v1h-8zM72 41h2v1h-2zM23 42h1v1h-1zM46 42h4v1h-4zM57 42h3v1h-3zM62 42h2v1h-2zM66 42h5v1h-5zM54 43h2v1h-2zM57 43h14v1h-14zM54 44h2v1h-2zM57 44h1v1h-1zM60 44h10v1h-10zM46 45h4v1h-4zM56 45h8v1h-8zM66 45h5v1h-5zM48 46h4v1h-4zM54 46h3v1h-3zM58 46h6v1h-6zM66 46h5v1h-5z"/>
<path fill="#0000cc" d="M58 0h2v1h-2zM6 2h1v1h-1zM10 2h1v1h-1zM14 2h1v1h-1zM16 2h1v1h-1zM19 2h2v1h-2zM23 2h1v1h-1zM27 2h1v1h-1zM62 2h4v1h-4zM58 3h2v1h-2zM62 5h2v1h-2zM66 5h2v1h-2zM68 7h2v1h-2zM62 9h2v1h-2zM68 9h2v1h-2zM57 14h1v1h-1zM60 15h2v1h-2zM15 16h1v1h-1zM22 16h2v1h-2zM27 16h2v1h-2zM68 16h2v1h-2zM70 17h1v1h-1zM58 18h2v1h-2zM60 21h2v1h-2zM64 22h2v1h-2zM70 22h1v1h-1zM57 23h1v1h-1zM66 23h2v1h-2zM68 25h2v1h-2zM26 28h1v1h-1zM57 28h1v1h-1zM62 28h2v1h-2zM64 33h2v1h-2zM57 34h1v1h-1zM60 34h2v1h-2zM57 35h1v1h-1zM64 37h2v1h-2zM60 38h2v1h-2zM25 42h2v1h-2zM60 42h2v1h-2zM64 42h2v1h-2zM58 44h2v1h-2zM57 46h1v1h-1z"/>
<path fill="#0099ff" d="M23 1h1v1h-1zM38 1h2v1h-2zM71 2h1v1h-1zM59 4h3v1h-3zM63 4h1v1h-1zM68 4h2v1h-2zM19 5h1v1h-1zM36 5h4v1h-4zM32 6h2v1h-2zM23 7h1v1h-1zM25 7h1v1h-1zM29 10h1v1h-1zM40 10h2v1h-2zM44 13h2v1h-2zM74 13h2v1h-2zM13 16h1v1h-1zM30 17h2v1h-2zM25 20h1v1h-1zM42 20h2v1h-2zM34 24h2v1h-2zM17 25h1v1h-1zM34 26h2v1h-2zM15 29h1v1h-1zM38 31h2v1h-2zM19 32h1v1h-1zM21 32h1v1h-1zM29 35h1v1h-1zM34 35h2v1h-2zM10 36h1v1h-1zM12 36h1v1h-1zM22 38h1v1h-1zM20 41h1v1h-1zM22 41h1v1h-1zM36 41h2v1h-2zM3 42h3v1h-3zM29 42h1v1h-1zM18 43h1v1h-1zM38 44h2v1h-2zM6 45h2v1h-2zM11 45h2v1h-2zM15 46h4v1h-4zM20 46h1v1h-1zM74 46h2v1h-2z"/>
<path fill="#b3ff4c" d="M30 1h2v1h-2zM38 4h2v1h-2zM7 5h1v1h-1zM15 9h2v1h-2zM17 11h1v1h-1zM19 12h1v1h-1zM5 15h1v1h-1zM7 15h2v1h-2zM14 17h1v1h-1zM18 18h1v1h-1zM20 18h1v1h-1zM17 19h1v1h-1zM19 19h1v1h-1zM18 20h1v1h-1zM16 21h1v1h-1zM18 21h1v1h-1zM22 23h1v1h-1zM25 27h2v1h-2zM6 29h1v1h-1zM15 30h2v1h-2zM18 30h1v1h-1zM17 31h2v1h-2zM17 38h1v1h-1zM16 40h2v1h-2zM8 43h1v1h-1zM13 43h1v1h-1zM16 44h1v1h-1zM2 45h1v1h-1zM6 46h1v1h-1zM11 46h2v1h-2zM14 46h1v1h-1z"/>
<path fill="#0000b3" d="M11 2h2v1h-2zM22 2h1v1h-1zM17 16h3v1h-3zM26 16h1v1h-1z"/>
<path fill="#0066ff" d="M29 2h1v1h-1zM52 2h2v1h-2zM46 4h2v1h-2zM22 5h1v1h-1zM32 7h2v1h-2zM26 9h1v1h-1zM71 9h1v1h-1zM28 10h1v1h-1zM74 11h2v1h-2zM26 12h1v1h-1zM29 13h1v1h-1zM22 15h1v1h-1zM25 17h1v1h-1zM34 17h2v1h-2zM44 17h2v1h-2zM24 19h1v1h-1zM54 19h2v1h-2zM27 24h1v1h-1zM23 25h1v1h-1zM26 25h1v1h-1zM44 25h2v1h-2zM56 25h1v1h-1zM31 26h1v1h-1zM52 27h2v1h-2zM15 28h1v1h-1zM46 30h2v1h-2zM34 31h2v1h-2zM28 32h1v1h-1zM18 33h1v1h-1zM23 33h1v1h-1zM22 34h1v1h-1zM27 34h1v1h-1zM28 35h1v1h-1zM8 36h1v1h-1zM13 36h1v1h-1zM21 36h2v1h-2zM21 38h1v1h-1zM20 39h1v1h-1zM71 39h1v1h-1zM28 41h2v1h-2zM71 41h1v1h-1zM8 42h1v1h-1zM14 42h1v1h-1zM21 42h1v1h-1zM27 43h1v1h-1zM27 44h2v1h-2zM50 44h2v1h-2zM15 45h2v1h-2zM18 45h1v1h-1zM20 45h1v1h-1z"/>
<path fill="#4dffb3" d="M21 3h1v1h-1zM18 13h1v1h-1zM20 13h2v1h-2zM29 14h1v1h-1zM32 14h2v1h-2zM7 17h3v1h-3zM18 22h1v1h-1zM22 22h1v1h-1zM21 24h2v1h-2zM25 24h2v1h-2zM2 25h1v1h-1zM4 25h1v1h-1zM29 27h1v1h-1zM16 39h1v1h-1zM19 39h1v1h-1z"/>
<path fill="#33ffcc" d="M22 3h1v1h-1zM17 8h2v1h-2zM34 14h4v1h-4zM26 21h1v1h-1zM17 22h1v1h-1zM21 22h1v1h-1zM19 24h2v1h-2zM3 25h1v1h-1zM30 27h1v1h-1zM30 37h2v1h-2zM15 39h1v1h-1zM17 39h2v1h-2z"/>
<path fill="#e5ff1a" d="M31 4h1v1h-1zM0 45h1v1h-1z"/>
<path fill="#ff6600" d="M32 4h3v1h-3zM13 5h1v1h-1zM20 10h1v1h-1zM25 14h2v1h-2zM5 17h2v1h-2zM16 18h1v1h-1zM21 27h1v1h-1zM2 29h1v1h-1zM6 32h1v1h-1zM5 34h1v1h-1zM4 36h2v1h-2zM17 37h2v1h-2zM6 39h1v1h-1zM8 40h1v1h-1zM14 41h2v1h-2zM10 43h1v1h-1zM13 44h2v1h-2z"/>
<path fill="#ff8000" d="M74 4h2v1h-2zM78 4h2v1h-2zM14 5h1v1h-1zM17 12h2v1h-2zM23 14h2v1h-2zM15 18h1v1h-1zM7 25h1v1h-1zM18 26h2v1h-2zM21 26h2v1h-2zM3 29h1v1h-1zM7 32h1v1h-1zM12 32h1v1h-1zM6 34h1v1h-1zM11 34h2v1h-2zM7 44h1v1h-1z"/>
<path fill="#ffcc00" d="M15 8h1v1h-1zM19 10h1v1h-1zM15 11h2v1h-2zM9 13h1v1h-1zM12 17h1v1h-1zM16 22h1v1h-1zM16 33h1v1h-1zM6 43h1v1h-1zM0 46h1v1h-1z"/>
<path fill="#00ccff" d="M76 14h2v1h-2zM76 19h2v1h-2zM76 22h2v1h-2zM76 30h2v1h-2z"/>
<path fill="#80ff80" d="M4 15h1v1h-1zM6 15h1v1h-1zM19 18h1v1h-1zM15 20h1v1h-1zM17 21h1v1h-1zM21 23h1v1h-1zM14 25h1v1h-1zM25 26h1v1h-1zM23 27h1v1h-1zM19 31h1v1h-1zM21 31h1v1h-1zM17 44h1v1h-1zM5 46h1v1h-1zM7 46h2v1h-2z"/>
</g>
<rect x="125.9" y="636.3" width="4.1" height="231.2" fill="#c9eea0"/>
<rect x="142.6" y="636.3" width="3.6" height="231.2" fill="#f7a6c8"/>
<rect x="48.1" y="636" width="2.5" height="232.8" fill="#00004d"/>
<rect x="48.1" y="867.5" width="261.5" height="1.3" fill="#00004d"/>
<text x="46.7" y="678.3" font-size="13.2" text-anchor="end" font-weight="normal" style="stroke-width:0.55px">40</text>
<text x="46.7" y="726.9" font-size="13.2" text-anchor="end" font-weight="normal" style="stroke-width:0.55px">30</text>
<text x="46.7" y="777.1" font-size="13.2" text-anchor="end" font-weight="normal" style="stroke-width:0.55px">20</text>
<text x="46.7" y="825.2" font-size="13.2" text-anchor="end" font-weight="normal" style="stroke-width:0.55px">10</text>
<text x="85.8" y="881.5" font-size="13.2" text-anchor="middle" font-weight="normal" style="stroke-width:0.55px">-250</text>
<text x="121.5" y="881.5" font-size="13.2" text-anchor="middle" font-weight="normal" style="stroke-width:0.55px">0</text>
<text x="166.2" y="881.5" font-size="13.2" text-anchor="middle" font-weight="normal" style="stroke-width:0.55px">250</text>
<text x="209.9" y="881.5" font-size="13.2" text-anchor="middle" font-weight="normal" style="stroke-width:0.55px">500</text>
<text x="252.5" y="881.5" font-size="13.2" text-anchor="middle" font-weight="normal" style="stroke-width:0.55px">750</text>
<text x="292.6" y="881.5" font-size="13.2" text-anchor="middle" font-weight="normal" style="stroke-width:0.55px">1000</text>
<text x="176.8" y="899.1" font-size="19.5" text-anchor="middle" font-weight="normal">Time (ms)</text>
<g shape-rendering="crispEdges" transform="translate(370.3 636.4) scale(3.24625 4.92128)">
<path fill="#0099ff" d="M0 0h1v1h-1zM35 0h1v1h-1zM38 0h1v1h-1zM6 1h1v1h-1zM21 1h1v1h-1zM26 1h2v1h-2zM50 4h1v1h-1zM62 4h2v1h-2zM74 4h2v1h-2zM77 4h1v1h-1zM41 5h1v1h-1zM41 6h1v1h-1zM38 7h1v1h-1zM43 7h1v1h-1zM38 8h3v1h-3zM38 11h1v1h-1zM35 12h1v1h-1zM0 13h1v1h-1zM10 13h2v1h-2zM37 13h1v1h-1zM40 13h1v1h-1zM22 15h1v1h-1zM41 17h1v1h-1zM1 18h1v1h-1zM42 18h1v1h-1zM44 18h1v1h-1zM0 19h1v1h-1zM6 19h1v1h-1zM0 20h2v1h-2zM3 20h1v1h-1zM42 20h1v1h-1zM38 22h1v1h-1zM36 24h2v1h-2zM7 25h2v1h-2zM10 25h2v1h-2zM13 25h2v1h-2zM44 26h1v1h-1zM43 27h1v1h-1zM24 28h1v1h-1zM4 32h1v1h-1zM7 33h1v1h-1zM38 34h1v1h-1zM4 35h2v1h-2zM35 35h1v1h-1zM38 35h1v1h-1zM26 36h3v1h-3zM44 37h1v1h-1zM6 39h1v1h-1zM5 40h2v1h-2zM2 41h1v1h-1zM5 41h2v1h-2zM37 41h1v1h-1zM27 42h1v1h-1zM15 43h1v1h-1zM27 43h1v1h-1zM3 45h1v1h-1zM5 45h2v1h-2zM11 45h1v1h-1zM13 45h1v1h-1zM16 45h1v1h-1zM0 46h1v1h-1zM5 46h2v1h-2z"/>
<path fill="#00b3ff" d="M1 0h2v1h-2zM37 0h1v1h-1zM39 0h1v1h-1zM20 1h1v1h-1zM61 4h1v1h-1zM67 4h1v1h-1zM72 4h1v1h-1zM40 5h1v1h-1zM39 6h1v1h-1zM35 8h3v1h-3zM41 8h1v1h-1zM40 10h1v1h-1zM38 12h1v1h-1zM35 13h1v1h-1zM38 13h1v1h-1zM50 14h1v1h-1zM4 15h2v1h-2zM20 15h1v1h-1zM2 18h1v1h-1zM2 21h2v1h-2zM35 24h1v1h-1zM38 24h1v1h-1zM12 25h1v1h-1zM20 25h1v1h-1zM22 25h1v1h-1zM28 25h1v1h-1zM4 31h1v1h-1zM35 31h1v1h-1zM1 32h1v1h-1zM5 32h1v1h-1zM31 32h1v1h-1zM3 33h1v1h-1zM8 33h1v1h-1zM11 33h1v1h-1zM37 33h1v1h-1zM37 34h1v1h-1zM3 35h1v1h-1zM6 35h1v1h-1zM9 35h2v1h-2zM31 35h2v1h-2zM15 36h3v1h-3zM6 38h1v1h-1zM38 39h1v1h-1zM7 40h1v1h-1zM9 41h1v1h-1zM23 42h1v1h-1zM25 42h2v1h-2zM0 43h1v1h-1zM17 43h1v1h-1zM26 43h1v1h-1zM28 43h1v1h-1zM5 44h2v1h-2zM31 44h1v1h-1zM4 45h1v1h-1zM27 45h1v1h-1zM32 46h1v1h-1z"/>
<path fill="#4dffb3" d="M3 0h1v1h-1zM5 0h1v1h-1zM33 0h1v1h-1zM1 1h1v1h-1zM3 1h1v1h-1zM7 1h1v1h-1zM9 1h1v1h-1zM25 1h1v1h-1zM0 3h2v1h-2zM4 3h1v1h-1zM39 3h1v1h-1zM44 3h1v1h-1zM34 7h2v1h-2zM3 8h2v1h-2zM6 9h1v1h-1zM37 10h1v1h-1zM34 11h1v1h-1zM7 13h1v1h-1zM12 13h1v1h-1zM32 13h1v1h-1zM46 14h2v1h-2zM2 17h1v1h-1zM35 17h1v1h-1zM37 18h1v1h-1zM1 19h1v1h-1zM40 20h1v1h-1zM35 23h1v1h-1zM16 25h1v1h-1zM19 25h1v1h-1zM24 25h1v1h-1zM40 26h1v1h-1zM33 30h1v1h-1zM30 32h1v1h-1zM16 38h1v1h-1zM32 40h1v1h-1zM10 44h1v1h-1z"/>
<path fill="#33ffcc" d="M4 0h1v1h-1zM34 0h1v1h-1zM0 1h1v1h-1zM10 1h1v1h-1zM24 1h1v1h-1zM2 3h1v1h-1zM37 3h1v1h-1zM40 3h1v1h-1zM46 3h3v1h-3zM65 4h1v1h-1zM7 7h1v1h-1zM36 7h1v1h-1zM5 8h1v1h-1zM2 9h3v1h-3zM36 9h1v1h-1zM1 10h1v1h-1zM3 10h2v1h-2zM35 10h1v1h-1zM33 11h1v1h-1zM35 11h1v1h-1zM34 12h1v1h-1zM3 13h2v1h-2zM6 13h1v1h-1zM13 13h2v1h-2zM31 13h1v1h-1zM33 13h1v1h-1zM39 14h1v1h-1zM41 14h1v1h-1zM43 14h3v1h-3zM14 15h4v1h-4zM23 15h1v1h-1zM25 15h1v1h-1zM10 17h1v1h-1zM38 17h2v1h-2zM5 18h1v1h-1zM2 19h1v1h-1zM13 19h1v1h-1zM37 19h3v1h-3zM7 20h1v1h-1zM39 20h1v1h-1zM41 20h1v1h-1zM7 21h2v1h-2zM10 21h1v1h-1zM41 21h1v1h-1zM37 23h2v1h-2zM1 24h2v1h-2zM5 24h2v1h-2zM15 25h1v1h-1zM23 25h1v1h-1zM25 25h1v1h-1zM39 27h1v1h-1zM33 40h2v1h-2z"/>
<path fill="#00ffff" d="M6 0h1v1h-1zM2 1h1v1h-1zM4 1h1v1h-1zM19 1h1v1h-1zM5 3h1v1h-1zM36 3h1v1h-1zM36 5h2v1h-2zM37 6h2v1h-2zM3 7h1v1h-1zM38 10h1v1h-1zM36 11h1v1h-1zM33 12h1v1h-1zM30 13h1v1h-1zM38 14h1v1h-1zM13 15h1v1h-1zM4 17h1v1h-1zM12 17h1v1h-1zM40 18h1v1h-1zM39 21h1v1h-1zM4 24h1v1h-1zM17 25h1v1h-1zM41 26h1v1h-1zM38 30h1v1h-1zM7 31h1v1h-1zM10 31h1v1h-1zM37 31h1v1h-1zM9 32h1v1h-1zM37 32h1v1h-1zM33 33h1v1h-1zM15 34h1v1h-1zM35 34h2v1h-2zM34 35h1v1h-1zM39 37h1v1h-1zM7 38h2v1h-2zM10 38h2v1h-2zM35 38h1v1h-1zM37 38h1v1h-1zM0 39h1v1h-1zM2 39h1v1h-1zM3 40h1v1h-1zM8 40h3v1h-3zM12 40h1v1h-1zM0 41h1v1h-1zM35 41h1v1h-1zM25 43h1v1h-1zM3 44h2v1h-2zM7 44h1v1h-1zM36 44h1v1h-1zM23 45h1v1h-1zM3 46h1v1h-1zM16 46h1v1h-1zM21 46h1v1h-1z"/>
<path fill="#ccff33" d="M7 0h1v1h-1zM14 0h1v1h-1zM7 3h1v1h-1zM34 3h1v1h-1zM3 5h1v1h-1zM5 5h1v1h-1zM7 5h1v1h-1zM4 6h1v1h-1zM6 7h1v1h-1zM9 7h3v1h-3zM13 7h2v1h-2zM16 7h1v1h-1zM9 8h1v1h-1zM13 8h1v1h-1zM32 8h2v1h-2zM10 9h1v1h-1zM32 9h1v1h-1zM29 10h1v1h-1zM33 10h1v1h-1zM6 11h1v1h-1zM31 11h1v1h-1zM0 12h1v1h-1zM4 12h1v1h-1zM16 13h1v1h-1zM15 17h1v1h-1zM29 17h2v1h-2zM7 18h1v1h-1zM11 18h2v1h-2zM12 19h1v1h-1zM33 19h2v1h-2zM9 20h3v1h-3zM31 20h4v1h-4zM37 20h2v1h-2zM13 21h1v1h-1zM37 21h1v1h-1zM1 22h1v1h-1zM5 22h1v1h-1zM0 23h2v1h-2zM4 23h1v1h-1zM33 23h1v1h-1zM7 24h1v1h-1zM10 24h1v1h-1zM12 24h1v1h-1zM31 24h2v1h-2zM37 27h1v1h-1zM12 30h1v1h-1zM15 30h1v1h-1zM17 30h1v1h-1zM21 30h1v1h-1zM19 31h1v1h-1zM32 31h1v1h-1zM19 32h1v1h-1zM18 33h1v1h-1zM24 33h1v1h-1zM18 34h1v1h-1zM21 35h1v1h-1zM1 37h1v1h-1zM8 37h1v1h-1zM11 37h1v1h-1zM14 37h1v1h-1zM33 37h2v1h-2zM20 38h1v1h-1zM26 38h1v1h-1zM32 38h1v1h-1zM21 39h1v1h-1zM19 40h1v1h-1zM17 41h1v1h-1zM15 44h1v1h-1zM19 46h1v1h-1z"/>
<path fill="#ffb300" d="M8 0h1v1h-1zM10 0h1v1h-1zM30 0h1v1h-1zM16 1h2v1h-2zM11 3h1v1h-1zM16 3h1v1h-1zM47 4h1v1h-1zM10 5h2v1h-2zM16 5h1v1h-1zM6 6h1v1h-1zM11 6h1v1h-1zM17 7h1v1h-1zM16 8h1v1h-1zM14 9h1v1h-1zM14 10h1v1h-1zM14 11h1v1h-1zM29 11h1v1h-1zM2 12h1v1h-1zM16 12h1v1h-1zM17 17h1v1h-1zM22 17h1v1h-1zM30 18h1v1h-1zM15 19h1v1h-1zM31 19h1v1h-1zM16 20h1v1h-1zM29 20h1v1h-1zM35 20h1v1h-1zM16 21h1v1h-1zM33 21h1v1h-1zM12 22h2v1h-2zM31 22h2v1h-2zM5 23h1v1h-1zM14 23h1v1h-1zM0 26h3v1h-3zM6 26h1v1h-1zM10 26h1v1h-1zM12 26h1v1h-1zM8 27h1v1h-1zM27 32h1v1h-1zM24 34h2v1h-2zM19 35h1v1h-1zM26 35h1v1h-1zM28 35h1v1h-1zM16 37h1v1h-1zM23 38h1v1h-1zM19 39h1v1h-1zM24 39h2v1h-2zM27 41h2v1h-2zM28 44h1v1h-1z"/>
<path fill="#ffcc00" d="M9 0h1v1h-1zM12 0h1v1h-1zM15 0h1v1h-1zM8 3h1v1h-1zM10 3h1v1h-1zM31 3h2v1h-2zM46 4h1v1h-1zM0 5h1v1h-1zM15 5h1v1h-1zM31 5h2v1h-2zM10 6h1v1h-1zM12 6h1v1h-1zM32 6h1v1h-1zM20 7h1v1h-1zM29 7h1v1h-1zM17 8h1v1h-1zM22 8h1v1h-1zM13 9h1v1h-1zM33 9h1v1h-1zM12 10h2v1h-2zM8 11h1v1h-1zM13 11h1v1h-1zM30 11h1v1h-1zM1 12h1v1h-1zM8 12h2v1h-2zM11 12h1v1h-1zM35 14h1v1h-1zM31 17h2v1h-2zM14 18h3v1h-3zM32 19h1v1h-1zM13 20h2v1h-2zM18 20h2v1h-2zM15 21h1v1h-1zM32 21h1v1h-1zM14 22h1v1h-1zM6 23h2v1h-2zM5 26h1v1h-1zM7 26h2v1h-2zM11 26h1v1h-1zM35 26h2v1h-2zM1 27h2v1h-2zM6 27h1v1h-1zM9 27h4v1h-4z"/>
<path fill="#ffe500" d="M11 0h1v1h-1zM16 0h1v1h-1zM29 0h1v1h-1zM15 1h1v1h-1zM9 3h1v1h-1zM15 3h1v1h-1zM8 5h2v1h-2zM17 5h1v1h-1zM5 6h1v1h-1zM31 6h1v1h-1zM21 7h1v1h-1zM30 7h1v1h-1zM15 8h1v1h-1zM15 9h2v1h-2zM34 9h1v1h-1zM7 10h1v1h-1zM7 11h1v1h-1zM9 11h1v1h-1zM10 12h1v1h-1zM15 12h1v1h-1zM17 12h1v1h-1zM36 14h1v1h-1zM13 18h1v1h-1zM29 18h1v1h-1zM16 19h1v1h-1zM15 20h1v1h-1zM30 20h1v1h-1zM31 21h1v1h-1zM7 22h1v1h-1zM12 23h2v1h-2zM9 26h1v1h-1zM5 27h1v1h-1zM33 27h2v1h-2zM18 40h1v1h-1zM21 41h1v1h-1z"/>
<path fill="#b3ff4c" d="M13 0h1v1h-1zM32 0h1v1h-1zM13 1h1v1h-1zM12 3h3v1h-3zM33 3h1v1h-1zM49 4h1v1h-1zM1 5h1v1h-1zM4 5h1v1h-1zM12 5h2v1h-2zM0 6h1v1h-1zM2 6h2v1h-2zM34 6h1v1h-1zM0 7h1v1h-1zM5 7h1v1h-1zM12 7h1v1h-1zM32 7h2v1h-2zM1 8h1v1h-1zM11 8h1v1h-1zM30 8h2v1h-2zM34 8h1v1h-1zM7 9h3v1h-3zM12 9h1v1h-1zM29 9h1v1h-1zM31 9h1v1h-1zM0 10h1v1h-1zM31 10h1v1h-1zM3 11h3v1h-3zM10 11h2v1h-2zM32 11h1v1h-1zM3 12h1v1h-1zM6 12h2v1h-2zM14 12h1v1h-1zM31 12h2v1h-2zM15 13h1v1h-1zM5 17h1v1h-1zM14 17h1v1h-1zM16 17h1v1h-1zM33 17h2v1h-2zM8 18h2v1h-2zM35 18h2v1h-2zM7 19h1v1h-1zM9 19h3v1h-3zM36 19h1v1h-1zM12 20h1v1h-1zM36 20h1v1h-1zM12 21h1v1h-1zM35 21h1v1h-1zM38 21h1v1h-1zM3 22h1v1h-1zM6 22h1v1h-1zM34 22h3v1h-3zM3 23h1v1h-1zM34 23h1v1h-1zM9 24h1v1h-1zM11 24h1v1h-1zM3 26h1v1h-1zM3 27h2v1h-2zM36 27h1v1h-1zM38 27h1v1h-1z"/>
<path fill="#ff6600" d="M17 0h1v1h-1zM28 0h1v1h-1zM17 3h1v1h-1zM30 3h1v1h-1zM41 4h4v1h-4zM19 5h1v1h-1zM8 6h2v1h-2zM18 7h1v1h-1zM22 7h1v1h-1zM10 10h2v1h-2zM22 10h1v1h-1zM16 11h1v1h-1zM22 11h1v1h-1zM27 13h1v1h-1zM6 14h1v1h-1zM18 17h4v1h-4zM32 18h1v1h-1zM30 19h1v1h-1zM17 20h1v1h-1zM8 22h1v1h-1zM10 22h1v1h-1zM13 24h2v1h-2zM34 26h1v1h-1z"/>
<path fill="#ff0000" d="M18 0h1v1h-1zM21 5h1v1h-1zM22 6h1v1h-1zM24 7h1v1h-1zM22 9h1v1h-1zM16 10h3v1h-3zM21 10h1v1h-1zM20 11h1v1h-1zM27 11h2v1h-2zM18 12h1v1h-1zM21 12h1v1h-1zM27 12h1v1h-1zM23 13h1v1h-1zM3 14h1v1h-1zM9 14h2v1h-2zM12 14h1v1h-1zM23 17h3v1h-3zM20 18h1v1h-1zM19 19h1v1h-1zM22 20h1v1h-1zM19 21h1v1h-1zM23 21h1v1h-1zM25 21h1v1h-1zM21 22h1v1h-1zM29 22h1v1h-1zM11 23h1v1h-1zM15 23h2v1h-2zM20 23h2v1h-2zM30 23h1v1h-1zM15 24h1v1h-1zM18 24h2v1h-2zM16 26h1v1h-1zM21 26h1v1h-1zM32 26h1v1h-1zM0 27h1v1h-1zM14 27h1v1h-1zM20 27h1v1h-1zM29 27h2v1h-2zM25 30h1v1h-1zM28 31h1v1h-1zM26 34h1v1h-1zM24 35h1v1h-1zM29 37h2v1h-2zM19 38h1v1h-1zM26 39h1v1h-1zM28 39h1v1h-1z"/>
<path fill="#e50000" d="M19 0h2v1h-2zM24 0h1v1h-1zM18 3h2v1h-2zM40 4h1v1h-1zM22 5h1v1h-1zM25 7h1v1h-1zM15 10h1v1h-1zM19 10h2v1h-2zM18 11h2v1h-2zM19 12h2v1h-2zM22 12h1v1h-1zM28 12h1v1h-1zM24 13h2v1h-2zM1 14h2v1h-2zM4 14h1v1h-1zM8 14h1v1h-1zM11 14h1v1h-1zM33 14h1v1h-1zM17 18h1v1h-1zM21 18h1v1h-1zM17 19h1v1h-1zM20 19h2v1h-2zM20 20h2v1h-2zM18 21h1v1h-1zM20 21h1v1h-1zM15 22h1v1h-1zM20 22h1v1h-1zM30 22h1v1h-1zM8 23h2v1h-2zM19 23h1v1h-1zM22 23h1v1h-1zM29 23h1v1h-1zM16 24h2v1h-2zM20 24h2v1h-2zM22 26h1v1h-1zM31 26h1v1h-1zM18 27h2v1h-2zM18 30h2v1h-2zM23 30h2v1h-2zM27 31h1v1h-1zM27 34h2v1h-2zM18 37h2v1h-2zM18 38h1v1h-1zM27 39h1v1h-1zM25 40h1v1h-1z"/>
<path fill="#ff1a00" d="M21 0h1v1h-1zM23 0h1v1h-1zM25 0h2v1h-2zM45 4h1v1h-1zM20 5h1v1h-1zM29 6h2v1h-2zM23 7h1v1h-1zM28 10h1v1h-1zM17 11h1v1h-1zM21 11h1v1h-1zM7 14h1v1h-1zM34 14h1v1h-1zM22 18h1v1h-1zM18 19h1v1h-1zM21 21h1v1h-1zM24 21h1v1h-1zM16 22h1v1h-1zM10 23h1v1h-1zM17 23h2v1h-2zM15 26h1v1h-1zM20 26h1v1h-1zM13 27h1v1h-1zM21 27h1v1h-1zM23 35h1v1h-1zM25 35h1v1h-1zM23 40h2v1h-2z"/>
<path fill="#ff3300" d="M22 0h1v1h-1zM27 0h1v1h-1zM30 5h1v1h-1zM19 7h1v1h-1zM19 8h1v1h-1zM21 8h1v1h-1zM18 9h2v1h-2zM28 9h1v1h-1zM8 10h1v1h-1zM15 11h1v1h-1zM30 12h1v1h-1zM26 13h1v1h-1zM28 13h1v1h-1zM31 18h1v1h-1zM22 21h1v1h-1zM29 21h1v1h-1zM31 23h1v1h-1zM7 27h1v1h-1z"/>
<path fill="#e5ff1a" d="M31 0h1v1h-1zM35 3h1v1h-1zM48 4h1v1h-1zM2 5h1v1h-1zM14 5h1v1h-1zM1 6h1v1h-1zM8 7h1v1h-1zM15 7h1v1h-1zM2 8h1v1h-1zM8 8h1v1h-1zM14 8h1v1h-1zM11 9h1v1h-1zM5 10h2v1h-2zM34 10h1v1h-1zM1 11h2v1h-2zM5 12h1v1h-1zM17 13h1v1h-1zM6 17h1v1h-1zM13 17h1v1h-1zM35 19h1v1h-1zM8 20h1v1h-1zM34 21h1v1h-1zM36 21h1v1h-1zM0 22h1v1h-1zM4 22h1v1h-1zM2 23h1v1h-1zM8 24h1v1h-1zM4 26h1v1h-1zM37 26h3v1h-3zM35 27h1v1h-1zM13 30h2v1h-2zM20 30h1v1h-1zM31 30h2v1h-2zM20 31h2v1h-2zM31 31h1v1h-1zM17 32h2v1h-2zM24 32h2v1h-2zM17 33h1v1h-1zM19 33h1v1h-1zM22 33h2v1h-2zM25 33h1v1h-1zM19 34h1v1h-1zM30 34h1v1h-1zM2 37h1v1h-1zM13 37h1v1h-1zM21 38h2v1h-2zM28 38h1v1h-1zM17 40h1v1h-1zM22 40h1v1h-1zM19 41h2v1h-2zM22 41h1v1h-1zM1 44h2v1h-2zM13 44h1v1h-1zM17 44h1v1h-1zM22 44h1v1h-1zM18 46h1v1h-1zM26 46h1v1h-1z"/>
<path fill="#0080ff" d="M36 0h1v1h-1zM5 1h1v1h-1zM22 1h1v1h-1zM51 4h1v1h-1zM70 4h2v1h-2zM73 4h1v1h-1zM79 4h1v1h-1zM42 5h1v1h-1zM44 5h1v1h-1zM40 6h1v1h-1zM43 6h1v1h-1zM37 7h1v1h-1zM39 7h2v1h-2zM42 7h1v1h-1zM44 7h1v1h-1zM43 8h2v1h-2zM1 9h1v1h-1zM39 10h1v1h-1zM42 10h1v1h-1zM37 11h1v1h-1zM8 13h2v1h-2zM36 13h1v1h-1zM39 13h1v1h-1zM41 13h1v1h-1zM44 13h1v1h-1zM48 14h2v1h-2zM3 15h1v1h-1zM6 15h1v1h-1zM21 15h1v1h-1zM40 17h1v1h-1zM42 17h1v1h-1zM43 18h1v1h-1zM42 19h3v1h-3zM2 20h1v1h-1zM4 20h1v1h-1zM1 21h1v1h-1zM4 21h1v1h-1zM37 22h1v1h-1zM39 22h1v1h-1zM9 25h1v1h-1zM26 25h2v1h-2zM25 28h1v1h-1zM12 31h1v1h-1zM2 32h1v1h-1zM12 32h1v1h-1zM9 33h2v1h-2zM12 34h1v1h-1zM7 35h2v1h-2zM11 35h1v1h-1zM36 35h1v1h-1zM42 37h1v1h-1zM3 39h1v1h-1zM5 39h1v1h-1zM35 39h2v1h-2zM0 40h3v1h-3zM37 40h3v1h-3zM1 41h1v1h-1zM4 41h1v1h-1zM24 42h1v1h-1zM28 42h1v1h-1zM16 43h1v1h-1zM10 45h1v1h-1zM12 45h1v1h-1zM14 45h1v1h-1zM28 45h1v1h-1zM31 46h1v1h-1zM33 46h2v1h-2z"/>
<path fill="#004dff" d="M40 0h1v1h-1zM48 0h1v1h-1zM65 0h1v1h-1zM74 0h3v1h-3zM24 2h3v1h-3zM28 2h1v1h-1zM67 3h1v1h-1zM70 3h2v1h-2zM73 3h2v1h-2zM76 3h2v1h-2zM52 4h1v1h-1zM57 4h1v1h-1zM59 4h1v1h-1zM43 5h1v1h-1zM45 5h2v1h-2zM68 5h1v1h-1zM44 6h1v1h-1zM74 6h2v1h-2zM47 7h1v1h-1zM65 7h1v1h-1zM69 7h2v1h-2zM72 7h1v1h-1zM76 7h2v1h-2zM47 8h2v1h-2zM65 8h1v1h-1zM67 8h1v1h-1zM71 8h2v1h-2zM74 8h1v1h-1zM76 8h1v1h-1zM79 8h1v1h-1zM37 9h3v1h-3zM42 9h2v1h-2zM45 9h2v1h-2zM48 9h1v1h-1zM66 9h1v1h-1zM72 9h2v1h-2zM77 9h3v1h-3zM47 10h1v1h-1zM65 10h2v1h-2zM70 10h1v1h-1zM74 10h1v1h-1zM42 11h2v1h-2zM65 11h2v1h-2zM68 11h2v1h-2zM78 11h1v1h-1zM40 12h1v1h-1zM42 12h1v1h-1zM44 12h4v1h-4zM67 12h1v1h-1zM69 12h1v1h-1zM76 12h1v1h-1zM78 12h2v1h-2zM42 13h2v1h-2zM46 13h3v1h-3zM68 13h1v1h-1zM71 13h2v1h-2zM74 13h1v1h-1zM76 13h1v1h-1zM78 13h1v1h-1zM67 14h1v1h-1zM69 14h1v1h-1zM71 14h1v1h-1zM74 14h1v1h-1zM7 15h2v1h-2zM10 15h1v1h-1zM28 15h1v1h-1zM40 15h7v1h-7zM48 15h1v1h-1zM68 15h3v1h-3zM72 15h1v1h-1zM10 16h2v1h-2zM14 16h1v1h-1zM28 16h1v1h-1zM43 17h6v1h-6zM65 17h1v1h-1zM68 17h1v1h-1zM72 17h1v1h-1zM78 17h1v1h-1zM45 18h4v1h-4zM67 18h1v1h-1zM71 18h1v1h-1zM73 18h1v1h-1zM76 18h1v1h-1zM78 18h1v1h-1zM48 19h1v1h-1zM67 19h1v1h-1zM69 19h2v1h-2zM74 19h2v1h-2zM78 19h1v1h-1zM5 20h2v1h-2zM43 20h1v1h-1zM45 20h2v1h-2zM48 20h1v1h-1zM72 20h1v1h-1zM74 20h1v1h-1zM77 20h1v1h-1zM44 21h1v1h-1zM48 21h1v1h-1zM65 21h1v1h-1zM68 21h1v1h-1zM71 21h1v1h-1zM75 21h1v1h-1zM42 22h4v1h-4zM48 22h1v1h-1zM66 22h1v1h-1zM71 22h1v1h-1zM73 22h2v1h-2zM77 22h3v1h-3zM42 23h2v1h-2zM46 23h3v1h-3zM66 23h3v1h-3zM72 23h1v1h-1zM77 23h1v1h-1zM42 26h1v1h-1zM47 26h2v1h-2zM66 26h1v1h-1zM68 26h1v1h-1zM71 26h1v1h-1zM75 26h3v1h-3zM79 26h1v1h-1zM44 27h1v1h-1zM46 27h3v1h-3zM65 27h1v1h-1zM71 27h2v1h-2zM74 27h1v1h-1zM7 28h2v1h-2zM16 28h1v1h-1zM18 28h2v1h-2zM21 28h1v1h-1zM28 28h1v1h-1zM6 29h4v1h-4zM18 29h1v1h-1zM23 29h1v1h-1zM25 29h1v1h-1zM39 30h1v1h-1zM41 30h3v1h-3zM46 30h1v1h-1zM48 30h1v1h-1zM65 30h2v1h-2zM69 30h1v1h-1zM78 30h1v1h-1zM41 31h1v1h-1zM44 31h1v1h-1zM46 31h2v1h-2zM72 31h1v1h-1zM75 31h4v1h-4zM42 32h2v1h-2zM65 32h2v1h-2zM69 32h1v1h-1zM76 32h1v1h-1zM40 33h1v1h-1zM45 33h2v1h-2zM65 33h1v1h-1zM68 33h1v1h-1zM73 33h1v1h-1zM39 34h1v1h-1zM43 34h1v1h-1zM46 34h1v1h-1zM48 34h1v1h-1zM66 34h1v1h-1zM69 34h1v1h-1zM72 34h2v1h-2zM75 34h1v1h-1zM78 34h1v1h-1zM2 35h1v1h-1zM42 35h1v1h-1zM47 35h1v1h-1zM68 35h1v1h-1zM71 35h1v1h-1zM75 35h1v1h-1zM6 36h3v1h-3zM10 36h1v1h-1zM12 36h1v1h-1zM19 36h2v1h-2zM43 37h1v1h-1zM45 37h1v1h-1zM48 37h1v1h-1zM65 37h1v1h-1zM68 37h2v1h-2zM75 37h1v1h-1zM39 38h1v1h-1zM41 38h3v1h-3zM47 38h1v1h-1zM65 38h4v1h-4zM70 38h1v1h-1zM76 38h4v1h-4zM7 39h1v1h-1zM40 39h1v1h-1zM44 39h1v1h-1zM46 39h1v1h-1zM71 39h2v1h-2zM76 39h1v1h-1zM40 40h2v1h-2zM43 40h5v1h-5zM67 40h1v1h-1zM78 40h1v1h-1zM41 41h1v1h-1zM69 41h2v1h-2zM72 41h1v1h-1zM79 41h1v1h-1zM0 42h2v1h-2zM5 42h1v1h-1zM16 42h2v1h-2zM22 42h1v1h-1zM2 43h3v1h-3zM11 43h1v1h-1zM13 43h1v1h-1zM20 43h1v1h-1zM30 43h1v1h-1zM33 43h1v1h-1zM36 43h1v1h-1zM42 43h2v1h-2zM46 43h2v1h-2zM65 43h1v1h-1zM67 43h2v1h-2zM74 43h1v1h-1zM77 43h2v1h-2zM39 44h1v1h-1zM42 44h2v1h-2zM45 44h2v1h-2zM48 44h1v1h-1zM2 45h1v1h-1zM8 45h2v1h-2zM17 45h3v1h-3zM21 45h1v1h-1zM29 45h1v1h-1zM35 45h2v1h-2zM40 45h1v1h-1zM43 45h1v1h-1zM47 45h1v1h-1zM66 45h2v1h-2zM71 45h1v1h-1zM73 45h1v1h-1zM75 45h1v1h-1zM77 45h1v1h-1zM79 45h1v1h-1zM36 46h2v1h-2zM42 46h1v1h-1zM44 46h1v1h-1zM46 46h1v1h-1zM48 46h1v1h-1zM66 46h2v1h-2zM69 46h1v1h-1zM72 46h2v1h-2zM75 46h1v1h-1zM77 46h2v1h-2z"/>
<path fill="#0033ff" d="M41 0h6v1h-6zM49 0h1v1h-1zM52 0h2v1h-2zM55 0h1v1h-1zM66 0h3v1h-3zM70 0h1v1h-1zM78 0h1v1h-1zM23 2h1v1h-1zM49 3h2v1h-2zM52 3h1v1h-1zM54 3h1v1h-1zM68 3h1v1h-1zM79 3h1v1h-1zM53 4h1v1h-1zM55 4h1v1h-1zM60 4h1v1h-1zM68 4h1v1h-1zM54 5h1v1h-1zM63 5h1v1h-1zM70 5h1v1h-1zM72 5h1v1h-1zM75 5h5v1h-5zM45 6h2v1h-2zM49 6h2v1h-2zM53 6h3v1h-3zM65 6h2v1h-2zM69 6h5v1h-5zM76 6h2v1h-2zM79 6h1v1h-1zM45 7h2v1h-2zM49 7h3v1h-3zM54 7h2v1h-2zM66 7h1v1h-1zM68 7h1v1h-1zM73 7h3v1h-3zM79 7h1v1h-1zM45 8h2v1h-2zM50 8h3v1h-3zM54 8h1v1h-1zM66 8h1v1h-1zM69 8h1v1h-1zM73 8h1v1h-1zM75 8h1v1h-1zM41 9h1v1h-1zM44 9h1v1h-1zM49 9h3v1h-3zM64 9h1v1h-1zM68 9h4v1h-4zM76 9h1v1h-1zM43 10h4v1h-4zM51 10h3v1h-3zM64 10h1v1h-1zM67 10h2v1h-2zM78 10h1v1h-1zM40 11h2v1h-2zM44 11h3v1h-3zM50 11h2v1h-2zM53 11h1v1h-1zM55 11h1v1h-1zM74 11h2v1h-2zM77 11h1v1h-1zM39 12h1v1h-1zM43 12h1v1h-1zM51 12h1v1h-1zM54 12h2v1h-2zM65 12h1v1h-1zM70 12h3v1h-3zM74 12h2v1h-2zM77 12h1v1h-1zM45 13h1v1h-1zM50 13h4v1h-4zM62 13h2v1h-2zM65 13h1v1h-1zM67 13h1v1h-1zM69 13h1v1h-1zM73 13h1v1h-1zM77 13h1v1h-1zM54 14h1v1h-1zM73 14h1v1h-1zM75 14h1v1h-1zM79 14h1v1h-1zM0 15h2v1h-2zM9 15h1v1h-1zM37 15h2v1h-2zM49 15h2v1h-2zM64 15h1v1h-1zM67 15h1v1h-1zM71 15h1v1h-1zM8 16h1v1h-1zM13 16h1v1h-1zM15 16h1v1h-1zM23 16h1v1h-1zM26 16h1v1h-1zM49 17h1v1h-1zM51 17h1v1h-1zM53 17h1v1h-1zM66 17h1v1h-1zM75 17h1v1h-1zM79 17h1v1h-1zM52 18h2v1h-2zM65 18h2v1h-2zM68 18h3v1h-3zM77 18h1v1h-1zM79 18h1v1h-1zM45 19h2v1h-2zM50 19h1v1h-1zM52 19h1v1h-1zM65 19h1v1h-1zM68 19h1v1h-1zM71 19h1v1h-1zM79 19h1v1h-1zM49 20h7v1h-7zM65 20h1v1h-1zM67 20h2v1h-2zM70 20h1v1h-1zM75 20h2v1h-2zM78 20h2v1h-2zM43 21h1v1h-1zM45 21h2v1h-2zM52 21h4v1h-4zM66 21h2v1h-2zM69 21h1v1h-1zM72 21h2v1h-2zM76 21h1v1h-1zM78 21h1v1h-1zM41 22h1v1h-1zM46 22h1v1h-1zM50 22h5v1h-5zM67 22h1v1h-1zM70 22h1v1h-1zM72 22h1v1h-1zM75 22h2v1h-2zM39 23h1v1h-1zM41 23h1v1h-1zM44 23h2v1h-2zM50 23h6v1h-6zM63 23h1v1h-1zM69 23h2v1h-2zM73 23h1v1h-1zM78 23h1v1h-1zM3 25h1v1h-1zM5 25h1v1h-1zM45 26h2v1h-2zM51 26h1v1h-1zM54 26h1v1h-1zM69 26h2v1h-2zM73 26h2v1h-2zM45 27h1v1h-1zM49 27h2v1h-2zM52 27h1v1h-1zM54 27h2v1h-2zM63 27h2v1h-2zM66 27h1v1h-1zM75 27h2v1h-2zM9 28h6v1h-6zM20 28h1v1h-1zM26 28h2v1h-2zM5 29h1v1h-1zM10 29h1v1h-1zM12 29h1v1h-1zM15 29h3v1h-3zM22 29h1v1h-1zM24 29h1v1h-1zM26 29h3v1h-3zM40 30h1v1h-1zM44 30h2v1h-2zM49 30h2v1h-2zM52 30h1v1h-1zM54 30h2v1h-2zM67 30h2v1h-2zM70 30h5v1h-5zM76 30h1v1h-1zM79 30h1v1h-1zM39 31h2v1h-2zM42 31h2v1h-2zM45 31h1v1h-1zM50 31h1v1h-1zM52 31h2v1h-2zM66 31h3v1h-3zM70 31h2v1h-2zM74 31h1v1h-1zM41 32h1v1h-1zM44 32h3v1h-3zM49 32h7v1h-7zM64 32h1v1h-1zM68 32h1v1h-1zM71 32h4v1h-4zM79 32h1v1h-1zM39 33h1v1h-1zM41 33h4v1h-4zM55 33h1v1h-1zM67 33h1v1h-1zM69 33h1v1h-1zM74 33h1v1h-1zM76 33h1v1h-1zM78 33h1v1h-1zM40 34h3v1h-3zM44 34h2v1h-2zM49 34h4v1h-4zM55 34h1v1h-1zM63 34h1v1h-1zM68 34h1v1h-1zM71 34h1v1h-1zM74 34h1v1h-1zM39 35h1v1h-1zM41 35h1v1h-1zM43 35h4v1h-4zM49 35h3v1h-3zM53 35h3v1h-3zM63 35h1v1h-1zM66 35h1v1h-1zM70 35h1v1h-1zM73 35h2v1h-2zM78 35h2v1h-2zM5 36h1v1h-1zM13 36h2v1h-2zM18 36h1v1h-1zM21 36h1v1h-1zM46 37h1v1h-1zM49 37h7v1h-7zM66 37h2v1h-2zM74 37h1v1h-1zM78 37h2v1h-2zM44 38h3v1h-3zM50 38h2v1h-2zM53 38h3v1h-3zM69 38h1v1h-1zM73 38h2v1h-2zM8 39h1v1h-1zM39 39h1v1h-1zM41 39h3v1h-3zM45 39h1v1h-1zM50 39h6v1h-6zM62 39h1v1h-1zM65 39h1v1h-1zM69 39h1v1h-1zM73 39h3v1h-3zM77 39h3v1h-3zM42 40h1v1h-1zM49 40h3v1h-3zM55 40h1v1h-1zM64 40h2v1h-2zM68 40h1v1h-1zM70 40h1v1h-1zM72 40h2v1h-2zM79 40h1v1h-1zM42 41h5v1h-5zM49 41h4v1h-4zM63 41h2v1h-2zM66 41h1v1h-1zM68 41h1v1h-1zM71 41h1v1h-1zM73 41h1v1h-1zM75 41h1v1h-1zM77 41h2v1h-2zM3 42h2v1h-2zM6 42h1v1h-1zM11 42h4v1h-4zM21 42h1v1h-1zM5 43h2v1h-2zM12 43h1v1h-1zM19 43h1v1h-1zM31 43h2v1h-2zM34 43h1v1h-1zM38 43h1v1h-1zM40 43h2v1h-2zM44 43h2v1h-2zM49 43h2v1h-2zM53 43h3v1h-3zM66 43h1v1h-1zM73 43h1v1h-1zM76 43h1v1h-1zM79 43h1v1h-1zM44 44h1v1h-1zM49 44h1v1h-1zM51 44h5v1h-5zM62 44h1v1h-1zM65 44h2v1h-2zM68 44h1v1h-1zM72 44h1v1h-1zM74 44h2v1h-2zM77 44h1v1h-1zM0 45h2v1h-2zM31 45h2v1h-2zM42 45h1v1h-1zM44 45h3v1h-3zM49 45h2v1h-2zM52 45h2v1h-2zM63 45h1v1h-1zM69 45h2v1h-2zM38 46h2v1h-2zM43 46h1v1h-1zM45 46h1v1h-1zM50 46h1v1h-1zM52 46h1v1h-1zM54 46h1v1h-1zM64 46h2v1h-2zM70 46h2v1h-2zM74 46h1v1h-1z"/>
<path fill="#0066ff" d="M47 0h1v1h-1zM69 0h1v1h-1zM71 0h3v1h-3zM77 0h1v1h-1zM79 0h1v1h-1zM28 1h1v1h-1zM65 3h2v1h-2zM69 3h1v1h-1zM72 3h1v1h-1zM75 3h1v1h-1zM78 3h1v1h-1zM54 4h1v1h-1zM76 4h1v1h-1zM78 4h1v1h-1zM39 5h1v1h-1zM47 5h2v1h-2zM65 5h3v1h-3zM69 5h1v1h-1zM71 5h1v1h-1zM73 5h2v1h-2zM42 6h1v1h-1zM47 6h2v1h-2zM67 6h2v1h-2zM78 6h1v1h-1zM41 7h1v1h-1zM48 7h1v1h-1zM67 7h1v1h-1zM71 7h1v1h-1zM78 7h1v1h-1zM42 8h1v1h-1zM68 8h1v1h-1zM70 8h1v1h-1zM77 8h2v1h-2zM47 9h1v1h-1zM65 9h1v1h-1zM67 9h1v1h-1zM74 9h2v1h-2zM41 10h1v1h-1zM48 10h1v1h-1zM69 10h1v1h-1zM71 10h3v1h-3zM75 10h3v1h-3zM79 10h1v1h-1zM47 11h2v1h-2zM67 11h1v1h-1zM70 11h4v1h-4zM76 11h1v1h-1zM79 11h1v1h-1zM36 12h2v1h-2zM48 12h1v1h-1zM66 12h1v1h-1zM68 12h1v1h-1zM73 12h1v1h-1zM34 13h1v1h-1zM66 13h1v1h-1zM70 13h1v1h-1zM75 13h1v1h-1zM79 13h1v1h-1zM65 14h2v1h-2zM68 14h1v1h-1zM70 14h1v1h-1zM72 14h1v1h-1zM76 14h3v1h-3zM47 15h1v1h-1zM65 15h2v1h-2zM73 15h7v1h-7zM27 16h1v1h-1zM0 17h1v1h-1zM67 17h1v1h-1zM69 17h3v1h-3zM73 17h2v1h-2zM76 17h2v1h-2zM72 18h1v1h-1zM74 18h2v1h-2zM5 19h1v1h-1zM47 19h1v1h-1zM66 19h1v1h-1zM72 19h2v1h-2zM76 19h2v1h-2zM44 20h1v1h-1zM47 20h1v1h-1zM66 20h1v1h-1zM69 20h1v1h-1zM71 20h1v1h-1zM73 20h1v1h-1zM42 21h1v1h-1zM47 21h1v1h-1zM70 21h1v1h-1zM74 21h1v1h-1zM77 21h1v1h-1zM79 21h1v1h-1zM47 22h1v1h-1zM65 22h1v1h-1zM68 22h2v1h-2zM65 23h1v1h-1zM71 23h1v1h-1zM74 23h3v1h-3zM79 23h1v1h-1zM21 25h1v1h-1zM43 26h1v1h-1zM65 26h1v1h-1zM67 26h1v1h-1zM72 26h1v1h-1zM78 26h1v1h-1zM42 27h1v1h-1zM67 27h4v1h-4zM73 27h1v1h-1zM77 27h3v1h-3zM15 28h1v1h-1zM22 28h2v1h-2zM13 29h1v1h-1zM47 30h1v1h-1zM75 30h1v1h-1zM77 30h1v1h-1zM48 31h1v1h-1zM65 31h1v1h-1zM69 31h1v1h-1zM73 31h1v1h-1zM79 31h1v1h-1zM3 32h1v1h-1zM39 32h1v1h-1zM47 32h2v1h-2zM67 32h1v1h-1zM70 32h1v1h-1zM75 32h1v1h-1zM77 32h2v1h-2zM38 33h1v1h-1zM47 33h2v1h-2zM66 33h1v1h-1zM70 33h3v1h-3zM75 33h1v1h-1zM77 33h1v1h-1zM79 33h1v1h-1zM47 34h1v1h-1zM65 34h1v1h-1zM67 34h1v1h-1zM70 34h1v1h-1zM76 34h2v1h-2zM79 34h1v1h-1zM0 35h2v1h-2zM37 35h1v1h-1zM48 35h1v1h-1zM65 35h1v1h-1zM67 35h1v1h-1zM69 35h1v1h-1zM72 35h1v1h-1zM76 35h2v1h-2zM11 36h1v1h-1zM47 37h1v1h-1zM70 37h4v1h-4zM76 37h2v1h-2zM5 38h1v1h-1zM40 38h1v1h-1zM48 38h1v1h-1zM71 38h2v1h-2zM75 38h1v1h-1zM4 39h1v1h-1zM9 39h1v1h-1zM37 39h1v1h-1zM47 39h2v1h-2zM66 39h3v1h-3zM70 39h1v1h-1zM48 40h1v1h-1zM66 40h1v1h-1zM69 40h1v1h-1zM71 40h1v1h-1zM74 40h4v1h-4zM3 41h1v1h-1zM38 41h2v1h-2zM47 41h2v1h-2zM65 41h1v1h-1zM67 41h1v1h-1zM74 41h1v1h-1zM76 41h1v1h-1zM8 42h1v1h-1zM14 43h1v1h-1zM48 43h1v1h-1zM69 43h4v1h-4zM75 43h1v1h-1zM47 44h1v1h-1zM67 44h1v1h-1zM69 44h3v1h-3zM73 44h1v1h-1zM76 44h1v1h-1zM78 44h2v1h-2zM15 45h1v1h-1zM20 45h1v1h-1zM26 45h1v1h-1zM30 45h1v1h-1zM48 45h1v1h-1zM65 45h1v1h-1zM68 45h1v1h-1zM72 45h1v1h-1zM74 45h1v1h-1zM76 45h1v1h-1zM78 45h1v1h-1zM40 46h1v1h-1zM47 46h1v1h-1zM68 46h1v1h-1zM76 46h1v1h-1zM79 46h1v1h-1z"/>
<path fill="#001aff" d="M50 0h2v1h-2zM54 0h1v1h-1zM56 0h1v1h-1zM63 0h2v1h-2zM44 1h1v1h-1zM46 1h1v1h-1zM65 1h3v1h-3zM69 1h1v1h-1zM71 1h1v1h-1zM74 1h2v1h-2zM77 1h1v1h-1zM27 2h1v1h-1zM71 2h2v1h-2zM74 2h1v1h-1zM51 3h1v1h-1zM53 3h1v1h-1zM55 3h1v1h-1zM57 3h1v1h-1zM63 3h2v1h-2zM56 4h1v1h-1zM58 4h1v1h-1zM69 4h1v1h-1zM49 5h5v1h-5zM55 5h1v1h-1zM64 5h1v1h-1zM51 6h2v1h-2zM57 6h1v1h-1zM62 6h2v1h-2zM52 7h2v1h-2zM56 7h2v1h-2zM62 7h1v1h-1zM64 7h1v1h-1zM49 8h1v1h-1zM53 8h1v1h-1zM55 8h2v1h-2zM62 8h3v1h-3zM40 9h1v1h-1zM52 9h4v1h-4zM57 9h1v1h-1zM62 9h2v1h-2zM49 10h2v1h-2zM54 10h4v1h-4zM62 10h2v1h-2zM49 11h1v1h-1zM52 11h1v1h-1zM54 11h1v1h-1zM56 11h2v1h-2zM62 11h1v1h-1zM64 11h1v1h-1zM41 12h1v1h-1zM49 12h2v1h-2zM52 12h2v1h-2zM56 12h2v1h-2zM62 12h3v1h-3zM1 13h2v1h-2zM49 13h1v1h-1zM54 13h2v1h-2zM64 13h1v1h-1zM51 14h3v1h-3zM55 14h3v1h-3zM62 14h3v1h-3zM2 15h1v1h-1zM11 15h2v1h-2zM26 15h2v1h-2zM39 15h1v1h-1zM51 15h5v1h-5zM62 15h2v1h-2zM7 16h1v1h-1zM9 16h1v1h-1zM12 16h1v1h-1zM24 16h2v1h-2zM67 16h1v1h-1zM50 17h1v1h-1zM52 17h1v1h-1zM54 17h4v1h-4zM62 17h3v1h-3zM49 18h3v1h-3zM54 18h4v1h-4zM62 18h3v1h-3zM49 19h1v1h-1zM51 19h1v1h-1zM53 19h3v1h-3zM62 19h1v1h-1zM64 19h1v1h-1zM56 20h2v1h-2zM62 20h2v1h-2zM49 21h3v1h-3zM56 21h2v1h-2zM62 21h1v1h-1zM64 21h1v1h-1zM40 22h1v1h-1zM49 22h1v1h-1zM55 22h1v1h-1zM62 22h3v1h-3zM40 23h1v1h-1zM49 23h1v1h-1zM56 23h1v1h-1zM64 23h1v1h-1zM46 24h1v1h-1zM48 24h1v1h-1zM65 24h1v1h-1zM67 24h2v1h-2zM71 24h2v1h-2zM76 24h1v1h-1zM1 25h2v1h-2zM4 25h1v1h-1zM6 25h1v1h-1zM78 25h1v1h-1zM49 26h2v1h-2zM52 26h2v1h-2zM55 26h3v1h-3zM62 26h3v1h-3zM51 27h1v1h-1zM53 27h1v1h-1zM56 27h2v1h-2zM17 28h1v1h-1zM47 28h2v1h-2zM66 28h2v1h-2zM78 28h2v1h-2zM11 29h1v1h-1zM14 29h1v1h-1zM19 29h3v1h-3zM66 29h1v1h-1zM68 29h3v1h-3zM72 29h1v1h-1zM76 29h1v1h-1zM51 30h1v1h-1zM53 30h1v1h-1zM56 30h1v1h-1zM62 30h1v1h-1zM64 30h1v1h-1zM49 31h1v1h-1zM51 31h1v1h-1zM54 31h4v1h-4zM62 31h2v1h-2zM40 32h1v1h-1zM62 32h2v1h-2zM49 33h6v1h-6zM56 33h1v1h-1zM62 33h2v1h-2zM53 34h2v1h-2zM57 34h1v1h-1zM62 34h1v1h-1zM64 34h1v1h-1zM40 35h1v1h-1zM52 35h1v1h-1zM56 35h1v1h-1zM62 35h1v1h-1zM64 35h1v1h-1zM9 36h1v1h-1zM22 36h1v1h-1zM42 36h1v1h-1zM48 36h1v1h-1zM66 36h1v1h-1zM70 36h1v1h-1zM75 36h1v1h-1zM56 37h2v1h-2zM62 37h3v1h-3zM49 38h1v1h-1zM52 38h1v1h-1zM57 38h1v1h-1zM62 38h3v1h-3zM49 39h1v1h-1zM56 39h2v1h-2zM63 39h1v1h-1zM52 40h3v1h-3zM57 40h1v1h-1zM62 40h2v1h-2zM40 41h1v1h-1zM53 41h3v1h-3zM62 41h1v1h-1zM2 42h1v1h-1zM7 42h1v1h-1zM9 42h2v1h-2zM15 42h1v1h-1zM18 42h3v1h-3zM45 42h1v1h-1zM48 42h1v1h-1zM68 42h1v1h-1zM71 42h1v1h-1zM73 42h3v1h-3zM77 42h2v1h-2zM1 43h1v1h-1zM7 43h4v1h-4zM18 43h1v1h-1zM21 43h2v1h-2zM29 43h1v1h-1zM35 43h1v1h-1zM37 43h1v1h-1zM39 43h1v1h-1zM51 43h2v1h-2zM56 43h2v1h-2zM62 43h1v1h-1zM64 43h1v1h-1zM40 44h2v1h-2zM50 44h1v1h-1zM56 44h2v1h-2zM63 44h2v1h-2zM7 45h1v1h-1zM22 45h1v1h-1zM33 45h2v1h-2zM37 45h3v1h-3zM41 45h1v1h-1zM51 45h1v1h-1zM54 45h4v1h-4zM62 45h1v1h-1zM35 46h1v1h-1zM41 46h1v1h-1zM49 46h1v1h-1zM51 46h1v1h-1zM53 46h1v1h-1zM55 46h2v1h-2zM62 46h2v1h-2z"/>
<path fill="#0000ff" d="M57 0h2v1h-2zM60 0h3v1h-3zM29 1h1v1h-1zM32 1h1v1h-1zM35 1h1v1h-1zM37 1h1v1h-1zM41 1h3v1h-3zM45 1h1v1h-1zM47 1h4v1h-4zM52 1h1v1h-1zM55 1h2v1h-2zM62 1h2v1h-2zM68 1h1v1h-1zM70 1h1v1h-1zM72 1h2v1h-2zM76 1h1v1h-1zM78 1h2v1h-2zM5 2h1v1h-1zM7 2h1v1h-1zM11 2h1v1h-1zM13 2h2v1h-2zM16 2h2v1h-2zM21 2h2v1h-2zM42 2h1v1h-1zM44 2h2v1h-2zM47 2h2v1h-2zM52 2h1v1h-1zM54 2h2v1h-2zM57 2h1v1h-1zM63 2h1v1h-1zM66 2h1v1h-1zM68 2h3v1h-3zM73 2h1v1h-1zM75 2h2v1h-2zM78 2h2v1h-2zM56 3h1v1h-1zM58 3h1v1h-1zM60 3h3v1h-3zM56 5h2v1h-2zM61 5h2v1h-2zM56 6h1v1h-1zM58 6h2v1h-2zM61 6h1v1h-1zM64 6h1v1h-1zM58 7h4v1h-4zM63 7h1v1h-1zM57 8h5v1h-5zM56 9h1v1h-1zM59 9h3v1h-3zM58 10h1v1h-1zM61 10h1v1h-1zM59 11h1v1h-1zM63 11h1v1h-1zM59 12h2v1h-2zM56 13h3v1h-3zM61 13h1v1h-1zM58 14h1v1h-1zM60 14h1v1h-1zM36 15h1v1h-1zM56 15h2v1h-2zM59 15h1v1h-1zM61 15h1v1h-1zM0 16h1v1h-1zM4 16h1v1h-1zM30 16h1v1h-1zM38 16h1v1h-1zM40 16h1v1h-1zM42 16h1v1h-1zM44 16h6v1h-6zM51 16h1v1h-1zM53 16h2v1h-2zM56 16h1v1h-1zM62 16h1v1h-1zM66 16h1v1h-1zM68 16h1v1h-1zM70 16h3v1h-3zM74 16h2v1h-2zM77 16h3v1h-3zM58 17h4v1h-4zM58 18h4v1h-4zM56 19h3v1h-3zM61 19h1v1h-1zM63 19h1v1h-1zM58 20h2v1h-2zM61 20h1v1h-1zM64 20h1v1h-1zM63 21h1v1h-1zM56 22h2v1h-2zM60 22h2v1h-2zM57 23h2v1h-2zM60 23h3v1h-3zM41 24h5v1h-5zM47 24h1v1h-1zM49 24h2v1h-2zM54 24h1v1h-1zM56 24h1v1h-1zM59 24h1v1h-1zM66 24h1v1h-1zM69 24h2v1h-2zM73 24h3v1h-3zM77 24h1v1h-1zM79 24h1v1h-1zM33 25h1v1h-1zM36 25h2v1h-2zM42 25h9v1h-9zM52 25h1v1h-1zM57 25h1v1h-1zM60 25h1v1h-1zM65 25h2v1h-2zM68 25h4v1h-4zM74 25h1v1h-1zM76 25h2v1h-2zM79 25h1v1h-1zM58 26h3v1h-3zM59 27h2v1h-2zM62 27h1v1h-1zM30 28h1v1h-1zM32 28h1v1h-1zM35 28h1v1h-1zM38 28h1v1h-1zM41 28h6v1h-6zM50 28h2v1h-2zM53 28h1v1h-1zM55 28h1v1h-1zM57 28h1v1h-1zM62 28h2v1h-2zM65 28h1v1h-1zM68 28h3v1h-3zM72 28h2v1h-2zM76 28h2v1h-2zM4 29h1v1h-1zM30 29h1v1h-1zM34 29h1v1h-1zM39 29h1v1h-1zM42 29h8v1h-8zM51 29h3v1h-3zM58 29h1v1h-1zM63 29h1v1h-1zM65 29h1v1h-1zM67 29h1v1h-1zM71 29h1v1h-1zM73 29h3v1h-3zM77 29h1v1h-1zM79 29h1v1h-1zM57 30h4v1h-4zM63 30h1v1h-1zM58 31h4v1h-4zM64 31h1v1h-1zM56 32h3v1h-3zM57 33h1v1h-1zM59 33h1v1h-1zM64 33h1v1h-1zM56 34h1v1h-1zM58 34h1v1h-1zM57 35h2v1h-2zM0 36h1v1h-1zM3 36h2v1h-2zM29 36h2v1h-2zM32 36h1v1h-1zM36 36h1v1h-1zM38 36h2v1h-2zM45 36h3v1h-3zM49 36h1v1h-1zM52 36h3v1h-3zM56 36h1v1h-1zM60 36h1v1h-1zM63 36h3v1h-3zM67 36h3v1h-3zM73 36h1v1h-1zM76 36h4v1h-4zM58 37h1v1h-1zM60 37h1v1h-1zM56 38h1v1h-1zM58 38h2v1h-2zM59 39h2v1h-2zM64 39h1v1h-1zM56 40h1v1h-1zM58 40h3v1h-3zM56 41h3v1h-3zM38 42h2v1h-2zM42 42h3v1h-3zM46 42h2v1h-2zM49 42h1v1h-1zM51 42h2v1h-2zM57 42h2v1h-2zM61 42h2v1h-2zM65 42h1v1h-1zM67 42h1v1h-1zM69 42h2v1h-2zM72 42h1v1h-1zM76 42h1v1h-1zM59 43h1v1h-1zM63 43h1v1h-1zM59 44h2v1h-2zM59 45h2v1h-2zM64 45h1v1h-1zM57 46h3v1h-3z"/>
<path fill="#0000e6" d="M59 0h1v1h-1zM31 1h1v1h-1zM34 1h1v1h-1zM36 1h1v1h-1zM51 1h1v1h-1zM53 1h2v1h-2zM57 1h3v1h-3zM61 1h1v1h-1zM64 1h1v1h-1zM1 2h1v1h-1zM3 2h1v1h-1zM6 2h1v1h-1zM9 2h2v1h-2zM15 2h1v1h-1zM18 2h2v1h-2zM29 2h2v1h-2zM32 2h4v1h-4zM39 2h1v1h-1zM41 2h1v1h-1zM43 2h1v1h-1zM46 2h1v1h-1zM49 2h3v1h-3zM53 2h1v1h-1zM56 2h1v1h-1zM59 2h4v1h-4zM64 2h2v1h-2zM67 2h1v1h-1zM77 2h1v1h-1zM59 3h1v1h-1zM58 5h3v1h-3zM60 6h1v1h-1zM58 9h1v1h-1zM59 10h2v1h-2zM58 11h1v1h-1zM60 11h2v1h-2zM58 12h1v1h-1zM61 12h1v1h-1zM59 13h2v1h-2zM59 14h1v1h-1zM61 14h1v1h-1zM32 15h1v1h-1zM58 15h1v1h-1zM60 15h1v1h-1zM2 16h2v1h-2zM5 16h1v1h-1zM17 16h1v1h-1zM35 16h3v1h-3zM41 16h1v1h-1zM43 16h1v1h-1zM50 16h1v1h-1zM52 16h1v1h-1zM55 16h1v1h-1zM57 16h5v1h-5zM63 16h3v1h-3zM69 16h1v1h-1zM73 16h1v1h-1zM76 16h1v1h-1zM59 19h2v1h-2zM60 20h1v1h-1zM58 21h4v1h-4zM58 22h2v1h-2zM59 23h1v1h-1zM40 24h1v1h-1zM51 24h3v1h-3zM55 24h1v1h-1zM57 24h2v1h-2zM60 24h5v1h-5zM78 24h1v1h-1zM0 25h1v1h-1zM29 25h2v1h-2zM40 25h1v1h-1zM51 25h1v1h-1zM53 25h4v1h-4zM58 25h2v1h-2zM61 25h4v1h-4zM67 25h1v1h-1zM72 25h2v1h-2zM75 25h1v1h-1zM61 26h1v1h-1zM58 27h1v1h-1zM61 27h1v1h-1zM2 28h1v1h-1zM6 28h1v1h-1zM29 28h1v1h-1zM36 28h1v1h-1zM39 28h2v1h-2zM49 28h1v1h-1zM52 28h1v1h-1zM54 28h1v1h-1zM56 28h1v1h-1zM58 28h1v1h-1zM60 28h1v1h-1zM64 28h1v1h-1zM71 28h1v1h-1zM74 28h2v1h-2zM0 29h1v1h-1zM2 29h1v1h-1zM31 29h1v1h-1zM35 29h3v1h-3zM50 29h1v1h-1zM54 29h4v1h-4zM59 29h4v1h-4zM64 29h1v1h-1zM78 29h1v1h-1zM61 30h1v1h-1zM59 32h3v1h-3zM58 33h1v1h-1zM60 33h2v1h-2zM59 34h3v1h-3zM59 35h3v1h-3zM35 36h1v1h-1zM37 36h1v1h-1zM41 36h1v1h-1zM43 36h2v1h-2zM50 36h2v1h-2zM55 36h1v1h-1zM57 36h3v1h-3zM61 36h2v1h-2zM71 36h2v1h-2zM74 36h1v1h-1zM59 37h1v1h-1zM61 37h1v1h-1zM60 38h2v1h-2zM58 39h1v1h-1zM61 39h1v1h-1zM61 40h1v1h-1zM59 41h3v1h-3zM30 42h1v1h-1zM32 42h2v1h-2zM50 42h1v1h-1zM53 42h4v1h-4zM59 42h2v1h-2zM63 42h2v1h-2zM66 42h1v1h-1zM79 42h1v1h-1zM58 43h1v1h-1zM60 43h2v1h-2zM58 44h1v1h-1zM61 44h1v1h-1zM58 45h1v1h-1zM61 45h1v1h-1zM60 46h2v1h-2z"/>
<path fill="#1affe5" d="M8 1h1v1h-1zM11 1h1v1h-1zM18 1h1v1h-1zM23 1h1v1h-1zM3 3h1v1h-1zM6 3h1v1h-1zM38 3h1v1h-1zM41 3h3v1h-3zM45 3h1v1h-1zM64 4h1v1h-1zM66 4h1v1h-1zM35 5h1v1h-1zM38 5h1v1h-1zM35 6h2v1h-2zM1 7h2v1h-2zM4 7h1v1h-1zM0 8h1v1h-1zM6 8h2v1h-2zM0 9h1v1h-1zM5 9h1v1h-1zM35 9h1v1h-1zM2 10h1v1h-1zM36 10h1v1h-1zM0 11h1v1h-1zM39 11h1v1h-1zM5 13h1v1h-1zM18 13h4v1h-4zM29 13h1v1h-1zM37 14h1v1h-1zM40 14h1v1h-1zM42 14h1v1h-1zM18 15h2v1h-2zM24 15h1v1h-1zM1 17h1v1h-1zM3 17h1v1h-1zM8 17h2v1h-2zM11 17h1v1h-1zM36 17h2v1h-2zM0 18h1v1h-1zM3 18h2v1h-2zM6 18h1v1h-1zM38 18h2v1h-2zM41 18h1v1h-1zM3 19h2v1h-2zM14 19h1v1h-1zM40 19h2v1h-2zM0 21h1v1h-1zM5 21h2v1h-2zM9 21h1v1h-1zM11 21h1v1h-1zM40 21h1v1h-1zM36 23h1v1h-1zM0 24h1v1h-1zM3 24h1v1h-1zM33 24h2v1h-2zM18 25h1v1h-1zM40 27h2v1h-2zM31 40h1v1h-1z"/>
<path fill="#66ff99" d="M12 1h1v1h-1zM22 30h1v1h-1zM34 30h1v1h-1zM36 30h1v1h-1zM2 31h1v1h-1zM13 31h1v1h-1zM15 31h1v1h-1zM29 31h1v1h-1zM33 31h1v1h-1zM15 32h1v1h-1zM33 32h1v1h-1zM29 33h1v1h-1zM3 34h1v1h-1zM17 34h1v1h-1zM21 34h2v1h-2zM31 34h1v1h-1zM16 35h1v1h-1zM22 35h1v1h-1zM30 35h1v1h-1zM4 37h4v1h-4zM38 37h1v1h-1zM1 38h1v1h-1zM13 38h1v1h-1zM34 38h1v1h-1zM16 39h1v1h-1zM30 39h1v1h-1zM13 40h1v1h-1zM15 40h1v1h-1zM13 41h1v1h-1zM29 41h1v1h-1zM0 44h1v1h-1zM19 44h1v1h-1zM33 44h2v1h-2zM8 46h1v1h-1zM10 46h2v1h-2zM17 46h1v1h-1zM24 46h2v1h-2z"/>
<path fill="#99ff66" d="M14 1h1v1h-1zM6 5h1v1h-1zM33 6h1v1h-1zM31 7h1v1h-1zM10 8h1v1h-1zM12 8h1v1h-1zM29 8h1v1h-1zM30 9h1v1h-1zM30 10h1v1h-1zM32 10h1v1h-1zM12 11h1v1h-1zM12 12h2v1h-2zM7 17h1v1h-1zM10 18h1v1h-1zM8 19h1v1h-1zM14 21h1v1h-1zM2 22h1v1h-1zM33 22h1v1h-1zM0 30h1v1h-1zM7 30h3v1h-3zM29 30h2v1h-2zM14 31h1v1h-1zM17 31h1v1h-1zM0 32h1v1h-1zM16 32h1v1h-1zM20 32h1v1h-1zM29 32h1v1h-1zM15 33h2v1h-2zM15 35h1v1h-1zM17 35h1v1h-1zM3 37h1v1h-1zM2 38h1v1h-1zM15 38h1v1h-1zM29 38h2v1h-2zM29 39h1v1h-1zM16 40h1v1h-1zM30 41h1v1h-1zM12 44h1v1h-1zM30 44h1v1h-1zM9 46h1v1h-1z"/>
<path fill="#0000b3" d="M30 1h1v1h-1zM33 1h1v1h-1zM38 1h1v1h-1zM40 1h1v1h-1zM0 2h1v1h-1zM36 2h1v1h-1zM29 15h3v1h-3zM33 15h1v1h-1zM16 16h1v1h-1zM19 16h1v1h-1zM21 16h2v1h-2zM31 16h4v1h-4zM39 24h1v1h-1zM0 28h2v1h-2zM29 29h1v1h-1zM32 29h1v1h-1zM38 29h1v1h-1zM41 29h1v1h-1zM2 36h1v1h-1zM31 42h1v1h-1zM34 42h2v1h-2zM41 42h1v1h-1z"/>
<path fill="#0000cc" d="M39 1h1v1h-1zM60 1h1v1h-1zM2 2h1v1h-1zM4 2h1v1h-1zM8 2h1v1h-1zM12 2h1v1h-1zM20 2h1v1h-1zM31 2h1v1h-1zM37 2h2v1h-2zM40 2h1v1h-1zM58 2h1v1h-1zM34 15h2v1h-2zM1 16h1v1h-1zM6 16h1v1h-1zM18 16h1v1h-1zM20 16h1v1h-1zM29 16h1v1h-1zM39 16h1v1h-1zM31 25h2v1h-2zM34 25h2v1h-2zM38 25h2v1h-2zM41 25h1v1h-1zM3 28h3v1h-3zM31 28h1v1h-1zM33 28h2v1h-2zM37 28h1v1h-1zM59 28h1v1h-1zM61 28h1v1h-1zM1 29h1v1h-1zM3 29h1v1h-1zM33 29h1v1h-1zM40 29h1v1h-1zM1 36h1v1h-1zM31 36h1v1h-1zM33 36h2v1h-2zM40 36h1v1h-1zM29 42h1v1h-1zM36 42h2v1h-2zM40 42h1v1h-1z"/>
<path fill="#800000" d="M20 3h9v1h-9zM0 4h40v1h-40zM23 5h6v1h-6zM13 6h8v1h-8zM23 6h6v1h-6zM26 7h3v1h-3zM23 8h6v1h-6zM23 9h5v1h-5zM23 10h5v1h-5zM23 11h4v1h-4zM23 12h4v1h-4zM0 14h1v1h-1zM13 14h20v1h-20zM26 17h3v1h-3zM18 18h2v1h-2zM23 18h6v1h-6zM23 19h6v1h-6zM23 20h6v1h-6zM26 21h3v1h-3zM17 22h3v1h-3zM23 22h6v1h-6zM23 23h6v1h-6zM23 24h6v1h-6zM17 26h3v1h-3zM23 26h8v1h-8zM15 27h3v1h-3zM23 27h6v1h-6zM26 30h3v1h-3zM23 31h4v1h-4zM20 37h2v1h-2zM23 37h6v1h-6zM26 40h3v1h-3zM23 41h4v1h-4zM23 44h4v1h-4z"/>
<path fill="#ff4c00" d="M29 3h1v1h-1zM18 5h1v1h-1zM29 5h1v1h-1zM7 6h1v1h-1zM18 8h1v1h-1zM20 8h1v1h-1zM17 9h1v1h-1zM20 9h2v1h-2zM9 10h1v1h-1zM29 12h1v1h-1zM5 14h1v1h-1zM33 18h1v1h-1zM22 19h1v1h-1zM29 19h1v1h-1zM17 21h1v1h-1zM9 22h1v1h-1zM11 22h1v1h-1zM32 23h1v1h-1zM22 24h1v1h-1zM29 24h2v1h-2zM13 26h2v1h-2zM33 26h1v1h-1zM22 27h1v1h-1zM31 27h2v1h-2z"/>
<path fill="#80ff80" d="M33 5h2v1h-2zM22 13h1v1h-1zM5 30h2v1h-2zM10 30h2v1h-2zM35 30h1v1h-1zM1 31h1v1h-1zM16 31h1v1h-1zM22 31h1v1h-1zM30 31h1v1h-1zM34 31h1v1h-1zM13 32h2v1h-2zM21 32h2v1h-2zM34 32h1v1h-1zM20 33h2v1h-2zM30 33h1v1h-1zM1 34h2v1h-2zM4 34h1v1h-1zM20 34h1v1h-1zM32 34h1v1h-1zM29 35h1v1h-1zM0 37h1v1h-1zM35 37h3v1h-3zM14 38h1v1h-1zM33 38h1v1h-1zM15 39h1v1h-1zM14 40h1v1h-1zM29 40h2v1h-2zM14 41h3v1h-3zM31 41h2v1h-2zM8 44h2v1h-2zM11 44h1v1h-1zM18 44h1v1h-1zM29 44h1v1h-1zM12 46h1v1h-1zM23 46h1v1h-1z"/>
<path fill="#cc0000" d="M21 6h1v1h-1zM22 22h1v1h-1z"/>
<path fill="#ff8000" d="M34 18h1v1h-1zM30 21h1v1h-1zM28 32h1v1h-1zM26 33h1v1h-1zM23 34h1v1h-1zM27 35h1v1h-1zM15 37h1v1h-1zM32 37h1v1h-1zM24 38h2v1h-2zM18 39h1v1h-1zM21 40h1v1h-1zM27 44h1v1h-1z"/>
<path fill="#00e5ff" d="M1 30h4v1h-4zM0 31h1v1h-1zM3 31h1v1h-1zM6 31h1v1h-1zM9 31h1v1h-1zM38 31h1v1h-1zM6 32h3v1h-3zM10 32h2v1h-2zM32 32h1v1h-1zM38 32h1v1h-1zM6 33h1v1h-1zM13 33h1v1h-1zM31 33h1v1h-1zM36 33h1v1h-1zM5 34h1v1h-1zM7 34h3v1h-3zM11 34h1v1h-1zM13 34h1v1h-1zM34 34h1v1h-1zM12 35h2v1h-2zM23 36h1v1h-1zM40 37h1v1h-1zM0 38h1v1h-1zM3 38h2v1h-2zM38 38h1v1h-1zM12 39h3v1h-3zM31 39h1v1h-1zM4 40h1v1h-1zM11 40h1v1h-1zM35 40h2v1h-2zM7 41h1v1h-1zM10 41h1v1h-1zM33 41h1v1h-1zM36 41h1v1h-1zM23 43h1v1h-1zM32 44h1v1h-1zM38 44h1v1h-1zM24 45h1v1h-1zM1 46h1v1h-1zM4 46h1v1h-1zM13 46h1v1h-1zM22 46h1v1h-1zM29 46h2v1h-2z"/>
<path fill="#ffff00" d="M16 30h1v1h-1zM18 31h1v1h-1zM23 32h1v1h-1zM29 34h1v1h-1zM20 35h1v1h-1zM9 37h2v1h-2zM12 37h1v1h-1zM17 38h1v1h-1zM27 38h1v1h-1zM31 38h1v1h-1zM17 39h1v1h-1zM20 39h1v1h-1zM22 39h1v1h-1zM18 41h1v1h-1zM14 44h1v1h-1zM16 44h1v1h-1zM20 44h2v1h-2zM27 46h2v1h-2z"/>
<path fill="#00ccff" d="M37 30h1v1h-1zM5 31h1v1h-1zM8 31h1v1h-1zM11 31h1v1h-1zM36 31h1v1h-1zM35 32h2v1h-2zM0 33h3v1h-3zM4 33h2v1h-2zM12 33h1v1h-1zM14 33h1v1h-1zM32 33h1v1h-1zM34 33h2v1h-2zM0 34h1v1h-1zM6 34h1v1h-1zM10 34h1v1h-1zM14 34h1v1h-1zM16 34h1v1h-1zM33 34h1v1h-1zM14 35h1v1h-1zM33 35h1v1h-1zM24 36h2v1h-2zM41 37h1v1h-1zM9 38h1v1h-1zM12 38h1v1h-1zM36 38h1v1h-1zM1 39h1v1h-1zM10 39h2v1h-2zM32 39h3v1h-3zM8 41h1v1h-1zM11 41h2v1h-2zM34 41h1v1h-1zM24 43h1v1h-1zM35 44h1v1h-1zM37 44h1v1h-1zM25 45h1v1h-1zM2 46h1v1h-1zM7 46h1v1h-1zM14 46h2v1h-2zM20 46h1v1h-1z"/>
<path fill="#ff9900" d="M26 32h1v1h-1zM27 33h2v1h-2zM18 35h1v1h-1zM17 37h1v1h-1zM22 37h1v1h-1zM31 37h1v1h-1zM23 39h1v1h-1zM20 40h1v1h-1z"/>
</g>
<rect x="445.9" y="636.4" width="4.1" height="231.3" fill="#c9eea0"/>
<rect x="462.4" y="636.4" width="3.6" height="231.3" fill="#f7a6c8"/>
<rect x="367.7" y="636.1" width="2.6" height="232.9" fill="#00004d"/>
<rect x="367.7" y="867.7" width="262.3" height="1.3" fill="#00004d"/>
<text x="366.5" y="677.9" font-size="13.2" text-anchor="end" font-weight="normal" style="stroke-width:0.55px">40</text>
<text x="366.5" y="727.8" font-size="13.2" text-anchor="end" font-weight="normal" style="stroke-width:0.55px">30</text>
<text x="366.5" y="777.6" font-size="13.2" text-anchor="end" font-weight="normal" style="stroke-width:0.55px">20</text>
<text x="366.5" y="826" font-size="13.2" text-anchor="end" font-weight="normal" style="stroke-width:0.55px">10</text>
<text x="404.7" y="881.9" font-size="13.2" text-anchor="middle" font-weight="normal" style="stroke-width:0.55px">-250</text>
<text x="442.1" y="881.9" font-size="13.2" text-anchor="middle" font-weight="normal" style="stroke-width:0.55px">0</text>
<text x="487" y="881.9" font-size="13.2" text-anchor="middle" font-weight="normal" style="stroke-width:0.55px">250</text>
<text x="529.4" y="881.9" font-size="13.2" text-anchor="middle" font-weight="normal" style="stroke-width:0.55px">500</text>
<text x="572.7" y="881.9" font-size="13.2" text-anchor="middle" font-weight="normal" style="stroke-width:0.55px">750</text>
<text x="614.1" y="881.9" font-size="13.2" text-anchor="middle" font-weight="normal" style="stroke-width:0.55px">1000</text>
<text x="498" y="899" font-size="19.5" text-anchor="middle" font-weight="normal">Time (ms)</text>
<text x="4.4" y="333.4" font-size="22" text-anchor="start" font-weight="bold" style="stroke-width:0px">C</text>
<text x="329.2" y="333.4" font-size="22" text-anchor="start" font-weight="bold" style="stroke-width:0px">D</text>
<text x="4.4" y="627.5" font-size="22" text-anchor="start" font-weight="bold" style="stroke-width:0px">E</text>
<text x="329.2" y="627.5" font-size="22" text-anchor="start" font-weight="bold" style="stroke-width:0px">F</text>
<text x="20" y="454.2" font-size="19.5" text-anchor="middle" font-weight="normal" transform="rotate(-90 20 454.2)">Electrodes (sorted)</text>
<text x="25.5" y="752.4" font-size="19.5" text-anchor="middle" font-weight="normal" transform="rotate(-90 25.5 752.4)">Electrodes (sorted)</text>
<polyline fill="none" stroke="#444" stroke-width="1.5" points="65.3,1111.3 79.4,1111.3 93.4,1111.3 107.5,1111.5 121.5,1111.3 135.5,1109.9 149.6,1110.3 163.6,1112 177.7,1110.8 191.7,1111.3 205.7,1111.5 219.8,1111.3 233.8,1110.8 247.9,1111.3 261.9,1111.3 275.9,1111.3 290,1111.3" stroke-dasharray="1.1 0.6"/>
<polyline fill="none" stroke="#444" stroke-width="1.5" points="65.3,1136.6 79.4,1135.7 93.4,1136.4 107.5,1137.3 121.5,1135.9 135.5,1135.7 149.6,1135.7 163.6,1136.2 177.7,1137.1 191.7,1137.3 205.7,1136.4 219.8,1135.9 233.8,1135.7 247.9,1135.9 261.9,1136.2 275.9,1137.3 290,1135.9" stroke-dasharray="1.1 0.6"/>
<polyline fill="none" stroke="#e8202a" stroke-width="3.4" points="65.3,1124.2 79.4,1124.2 93.4,1124.2 107.5,1124.2 121.5,1124.6 135.5,1124.2 149.6,1015.8 163.6,1114.5 177.7,1112.6 191.7,1111.3 205.7,1115.6 219.8,1116.1 233.8,1112 247.9,1114.5 261.9,1122.3 275.9,1126 290,1127.9" stroke-linejoin="miter"/>
<polyline fill="none" stroke="#3a43d8" stroke-width="3.2" points="65.3,1124.2 79.4,1124.2 93.4,1124.2 107.5,1124.2 121.5,1124.6 135.5,1124.2 149.6,1015.8 163.6,1114.5 177.7,1112.6 191.7,1111.3 205.7,1115.6 219.8,1116.1 233.8,1112 247.9,1114.5 261.9,1122.3 275.9,1126 290,1127.9" stroke-dasharray="2.6 1.5" stroke-linejoin="miter"/>
<line x1="53" y1="1124.2" x2="303.4" y2="1124.2" stroke="#000" stroke-width="2.2" stroke-dasharray="2.6 0.8 1 0.8"/>
<polyline fill="none" stroke="#404040" stroke-width="1.5" points="383.4,1057.3 425.4,1057.3" stroke-dasharray="1 0.7"/>
<polyline fill="none" stroke="#505050" stroke-width="0.9" points="425.4,1057.3 439.9,1075.8"/>
<polyline fill="none" stroke="#404040" stroke-width="1.5" points="439.9,1075.8 455,1075.8" stroke-dasharray="1 0.7"/>
<polyline fill="none" stroke="#505050" stroke-width="0.9" points="455,1075.8 470.2,1057.3 484.7,1075.8 500.6,1057.3"/>
<polyline fill="none" stroke="#404040" stroke-width="1.5" points="500.6,1057.3 614.9,1057.3" stroke-dasharray="1 0.7"/>
<polyline fill="none" stroke="#404040" stroke-width="1.5" points="383.4,1164.3 614.9,1164.3" stroke-dasharray="1 0.7"/>
<polygon fill="#c3c9cc" points="383.4,1118.2 397.9,1128.6 412.4,1125.6 426.8,1113.6 441.3,1125.6 455.8,1122.1 470.2,1126.7 484.7,1133.6 499.2,1131.1 513.6,1118.4 528.1,1125.1 542.6,1125.1 557.1,1118.4 571.5,1123.7 586,1132 600.5,1122.1 614.9,1114.3 614.9,1123.9 600.5,1131.8 586,1141.7 571.5,1133.4 557.1,1128.1 542.6,1134.8 528.1,1134.8 513.6,1128.1 499.2,1140.8 484.7,1143.3 470.2,1136.4 455.8,1131.8 441.3,1135.2 426.8,1123.3 412.4,1135.2 397.9,1138.2 383.4,1127.9"/>
<polyline fill="none" stroke="#ee1c24" stroke-width="3.6" points="383.4,1124.2 397.9,1124.2 412.4,1124.2 426.8,1124.2 441.3,1124.2 455.8,1124.2 470.2,1015.8 484.7,1116.1 499.2,1112.6 513.6,1111.7 528.1,1116.1 542.6,1113.8 557.1,1114.5 571.5,1115.9 586,1117.7 600.5,1123.5 614.9,1128.8" stroke-linejoin="miter"/>
<polyline fill="none" stroke="#3d52d6" stroke-width="3.8" points="383.4,1123 397.9,1133.4 412.4,1130.4 426.8,1118.4 441.3,1130.4 455.8,1126.9 470.2,1131.6 484.7,1138.5 499.2,1135.9 513.6,1123.3 528.1,1129.9 542.6,1129.9 557.1,1123.3 571.5,1128.6 586,1136.9 600.5,1126.9 614.9,1119.1" stroke-dasharray="3.2 1.9"/>
<line x1="370" y1="1124.2" x2="629.3" y2="1124.2" stroke="#000" stroke-width="2.2" stroke-dasharray="2.6 0.8 1 0.8"/>
<rect x="120.3" y="950" width="2.8" height="232" fill="#c6efa0"/>
<rect x="134.4" y="950" width="3" height="232" fill="#f9aac4"/>
<rect x="440" y="950" width="2.8" height="232" fill="#c6efa0"/>
<rect x="454.2" y="950" width="3" height="232" fill="#f9aac4"/>
<rect x="50.4" y="949.6" width="3.5" height="234" fill="#000"/>
<rect x="50.4" y="1180.4" width="253" height="3.3" fill="#000"/>
<text x="42.2" y="1186.6" font-size="13" text-anchor="end" font-weight="normal">0</text>
<rect x="52.7" y="1134.9" width="3.2" height="1.6" fill="#000"/>
<text x="48.5" y="1140.6" font-size="13.8" text-anchor="end" font-weight="normal">20</text>
<rect x="52.7" y="1088.8" width="3.2" height="1.6" fill="#000"/>
<text x="48.5" y="1094.5" font-size="13.8" text-anchor="end" font-weight="normal">40</text>
<rect x="52.7" y="1042.7" width="3.2" height="1.6" fill="#000"/>
<text x="48.5" y="1048.4" font-size="13.8" text-anchor="end" font-weight="normal">60</text>
<rect x="52.7" y="996.6" width="3.2" height="1.6" fill="#000"/>
<text x="48.5" y="1002.3" font-size="13.8" text-anchor="end" font-weight="normal">80</text>
<rect x="52.7" y="950.5" width="3.2" height="1.6" fill="#000"/>
<text x="48.5" y="956.2" font-size="13.8" text-anchor="end" font-weight="normal">100</text>
<rect x="367.1" y="949.6" width="3.5" height="234" fill="#000"/>
<rect x="367.1" y="1180.4" width="262.2" height="3.3" fill="#000"/>
<text x="358.9" y="1186.6" font-size="13" text-anchor="end" font-weight="normal">0</text>
<rect x="369.4" y="1134.9" width="3.2" height="1.6" fill="#000"/>
<text x="365.2" y="1140.6" font-size="13.8" text-anchor="end" font-weight="normal">20</text>
<rect x="369.4" y="1088.8" width="3.2" height="1.6" fill="#000"/>
<text x="365.2" y="1094.5" font-size="13.8" text-anchor="end" font-weight="normal">40</text>
<rect x="369.4" y="1042.7" width="3.2" height="1.6" fill="#000"/>
<text x="365.2" y="1048.4" font-size="13.8" text-anchor="end" font-weight="normal">60</text>
<rect x="369.4" y="996.6" width="3.2" height="1.6" fill="#000"/>
<text x="365.2" y="1002.3" font-size="13.8" text-anchor="end" font-weight="normal">80</text>
<rect x="369.4" y="950.5" width="3.2" height="1.6" fill="#000"/>
<text x="365.2" y="956.2" font-size="13.8" text-anchor="end" font-weight="normal">100</text>
<rect x="134.7" y="1177.6" width="1.6" height="3" fill="#000"/>
<rect x="190.9" y="1177.6" width="1.6" height="3" fill="#000"/>
<rect x="261.1" y="1177.6" width="1.6" height="3" fill="#000"/>
<text x="47.8" y="1196" font-size="13.6" text-anchor="middle" font-weight="normal">-500</text>
<text x="121" y="1196" font-size="13.6" text-anchor="middle" font-weight="normal">0</text>
<text x="139.5" y="1196" font-size="13.6" text-anchor="middle" font-weight="normal">100</text>
<text x="191.7" y="1196" font-size="13.6" text-anchor="middle" font-weight="normal">500</text>
<text x="261.9" y="1196" font-size="13.6" text-anchor="middle" font-weight="normal">1000</text>
<rect x="455" y="1177.6" width="1.6" height="3" fill="#000"/>
<rect x="512.9" y="1177.6" width="1.6" height="3" fill="#000"/>
<rect x="585.2" y="1177.6" width="1.6" height="3" fill="#000"/>
<text x="365.5" y="1196" font-size="13.6" text-anchor="middle" font-weight="normal">-500</text>
<text x="440.8" y="1196" font-size="13.6" text-anchor="middle" font-weight="normal">0</text>
<text x="459.8" y="1196" font-size="13.6" text-anchor="middle" font-weight="normal">100</text>
<text x="513.6" y="1196" font-size="13.6" text-anchor="middle" font-weight="normal">500</text>
<text x="586" y="1196" font-size="13.6" text-anchor="middle" font-weight="normal">1000</text>
<text x="176" y="1214" font-size="19.5" text-anchor="middle" font-weight="normal">Time (ms)</text>
<text x="497" y="1214" font-size="19.5" text-anchor="middle" font-weight="normal">Time (ms)</text>
<text x="19.2" y="1067" font-size="19.5" text-anchor="middle" font-weight="normal" transform="rotate(-90 19.2 1067)">Accuracy (%)</text>
<text x="4.2" y="928.9" font-size="22" text-anchor="start" font-weight="bold" style="stroke-width:0px">G</text>
<text x="329.2" y="928.9" font-size="22" text-anchor="start" font-weight="bold" style="stroke-width:0px">H</text>
<rect x="179" y="960.2" width="14" height="3.4" fill="#e8202a"/>
<text x="195.5" y="967.5" font-size="15" text-anchor="start" font-weight="normal" style="stroke-width:0.6px">Training Normal</text>
<line x1="181.5" y1="980.7" x2="194" y2="980.7" stroke="#3a43d8" stroke-width="3.4" stroke-dasharray="3 1.5"/>
<text x="195.5" y="986.3" font-size="15" text-anchor="start" font-weight="normal" style="stroke-width:0.6px">Testing Normal</text>
<rect x="505.3" y="961" width="15" height="3.6" fill="#ee1c24"/>
<text x="522" y="968" font-size="14.8" text-anchor="start" font-weight="normal" style="stroke-width:0.6px">Training Normal</text>
<line x1="507.5" y1="981.2" x2="521" y2="981.2" stroke="#3d52d6" stroke-width="3.6" stroke-dasharray="3.2 1.6"/>
<text x="522" y="986.6" font-size="14.8" text-anchor="start" font-weight="normal" style="stroke-width:0.6px">Testing Error</text>
</svg>
</body></html>
